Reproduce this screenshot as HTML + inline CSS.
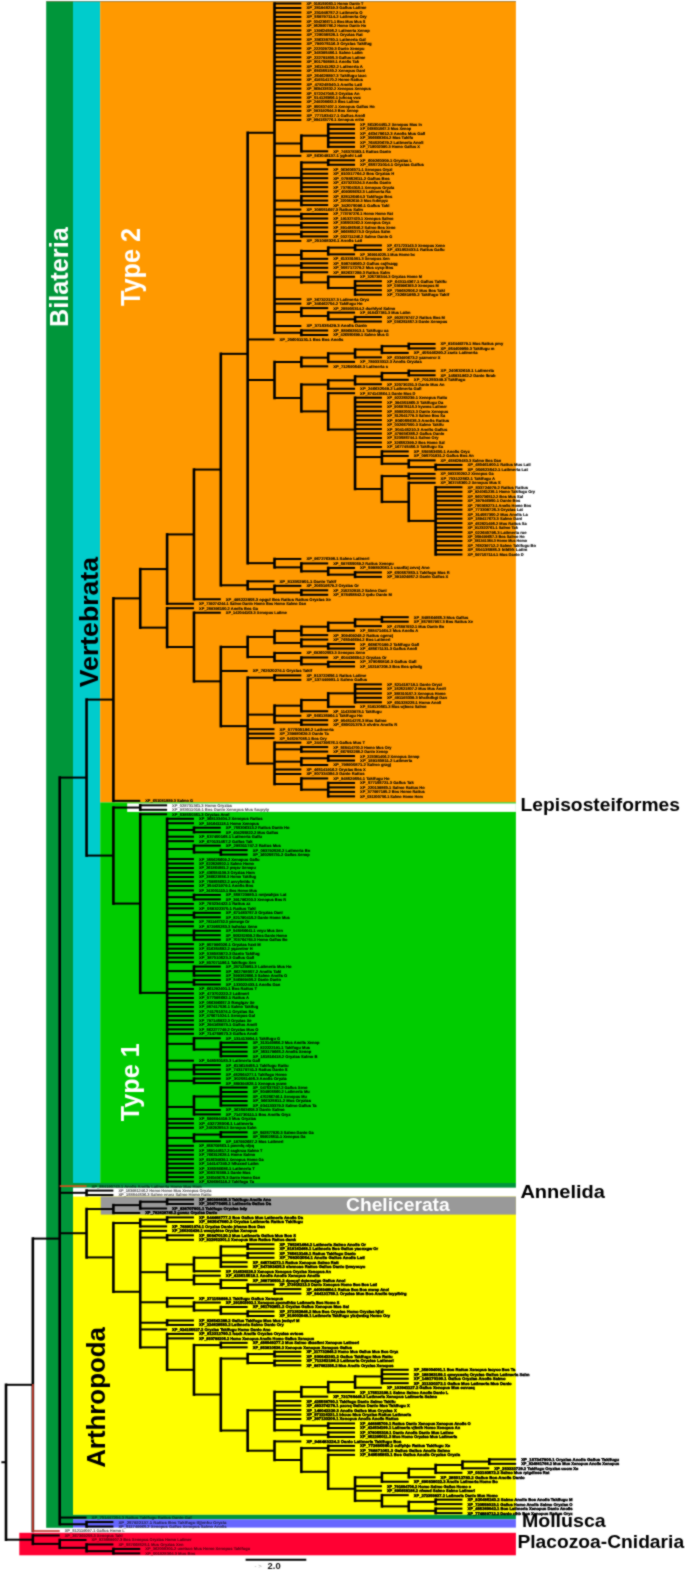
<!DOCTYPE html>
<html><head><meta charset="utf-8"><style>
html,body{margin:0;padding:0;background:#fff;}
svg{display:block;}
</style></head><body>
<svg width="685" height="1570" viewBox="0 0 685 1570">
<defs><filter id="bl" filterUnits="userSpaceOnUse" x="-5" y="-5" width="695" height="1580" color-interpolation-filters="sRGB"><feConvolveMatrix order="3" kernelMatrix="1 2 1 2 10 2 1 2 1" edgeMode="duplicate" preserveAlpha="true"/></filter></defs>
<g filter="url(#bl)">
<rect x="-5" y="-5" width="695" height="1580" fill="#fff"/>
<rect x="46.2" y="1.2" width="26.8" height="1526.6" fill="#00963A"/>
<rect x="73.0" y="1.2" width="27.2" height="1181.8" fill="#00CCCC"/>
<rect x="100.2" y="1.2" width="415.7" height="801.2" fill="#FF9900"/>
<rect x="100.2" y="802.4" width="415.7" height="380.6" fill="#00CC00"/>
<rect x="127.2" y="803.4" width="388.7" height="8.5" fill="#FFFFFF"/>
<rect x="73.0" y="1183.0" width="442.9" height="4.8" fill="#00963A"/>
<rect x="73.0" y="1187.8" width="442.9" height="8.8" fill="#FFFFFF"/>
<rect x="73.0" y="1196.6" width="442.9" height="318.2" fill="#FFFF00"/>
<rect x="100.7" y="1196.6" width="415.2" height="18.0" fill="#999999"/>
<rect x="73.0" y="1514.8" width="442.9" height="4.5" fill="#00963A"/>
<rect x="73.0" y="1519.3" width="442.9" height="8.3" fill="#6666FF"/>
<rect x="19.3" y="1532.8" width="496.6" height="22.5" fill="#FF0033"/>
<rect x="46.2" y="1.0" width="469.7" height="0.6" fill="#7a6a40"/>
<g>
<line x1="328.20" y1="124.45" x2="328.20" y2="146.84" stroke="black" stroke-width="2.6" stroke-linecap="square"/>
<line x1="301.35" y1="135.65" x2="301.35" y2="151.32" stroke="black" stroke-width="2.6" stroke-linecap="square"/>
<line x1="328.20" y1="160.28" x2="328.20" y2="164.76" stroke="black" stroke-width="2.6" stroke-linecap="square"/>
<line x1="301.35" y1="162.52" x2="301.35" y2="191.64" stroke="black" stroke-width="2.6" stroke-linecap="square"/>
<line x1="301.35" y1="196.12" x2="301.35" y2="205.08" stroke="black" stroke-width="2.6" stroke-linecap="square"/>
<line x1="301.35" y1="214.04" x2="301.35" y2="218.52" stroke="black" stroke-width="2.6" stroke-linecap="square"/>
<line x1="301.35" y1="223.00" x2="301.35" y2="227.47" stroke="black" stroke-width="2.6" stroke-linecap="square"/>
<line x1="301.35" y1="231.95" x2="301.35" y2="236.43" stroke="black" stroke-width="2.6" stroke-linecap="square"/>
<line x1="355.05" y1="245.39" x2="355.05" y2="249.87" stroke="black" stroke-width="2.6" stroke-linecap="square"/>
<line x1="328.20" y1="247.63" x2="328.20" y2="254.35" stroke="black" stroke-width="2.6" stroke-linecap="square"/>
<line x1="301.35" y1="250.99" x2="301.35" y2="258.83" stroke="black" stroke-width="2.6" stroke-linecap="square"/>
<line x1="301.35" y1="263.31" x2="301.35" y2="267.79" stroke="black" stroke-width="2.6" stroke-linecap="square"/>
<line x1="355.05" y1="281.23" x2="355.05" y2="294.67" stroke="black" stroke-width="2.6" stroke-linecap="square"/>
<line x1="328.20" y1="276.75" x2="328.20" y2="287.95" stroke="black" stroke-width="2.6" stroke-linecap="square"/>
<line x1="301.35" y1="272.27" x2="301.35" y2="282.35" stroke="black" stroke-width="2.6" stroke-linecap="square"/>
<line x1="355.05" y1="317.06" x2="355.05" y2="321.54" stroke="black" stroke-width="2.6" stroke-linecap="square"/>
<line x1="328.20" y1="312.59" x2="328.20" y2="319.30" stroke="black" stroke-width="2.6" stroke-linecap="square"/>
<line x1="301.35" y1="308.11" x2="301.35" y2="315.95" stroke="black" stroke-width="2.6" stroke-linecap="square"/>
<line x1="301.35" y1="330.50" x2="301.35" y2="334.98" stroke="black" stroke-width="2.6" stroke-linecap="square"/>
<line x1="274.50" y1="3.50" x2="274.50" y2="332.74" stroke="black" stroke-width="2.6" stroke-linecap="square"/>
<line x1="408.75" y1="343.94" x2="408.75" y2="348.42" stroke="black" stroke-width="2.6" stroke-linecap="square"/>
<line x1="381.90" y1="346.18" x2="381.90" y2="352.90" stroke="black" stroke-width="2.6" stroke-linecap="square"/>
<line x1="355.05" y1="349.54" x2="355.05" y2="357.38" stroke="black" stroke-width="2.6" stroke-linecap="square"/>
<line x1="328.20" y1="353.46" x2="328.20" y2="361.86" stroke="black" stroke-width="2.6" stroke-linecap="square"/>
<line x1="301.35" y1="357.66" x2="301.35" y2="366.34" stroke="black" stroke-width="2.6" stroke-linecap="square"/>
<line x1="408.75" y1="370.82" x2="408.75" y2="375.30" stroke="black" stroke-width="2.6" stroke-linecap="square"/>
<line x1="381.90" y1="373.06" x2="381.90" y2="379.78" stroke="black" stroke-width="2.6" stroke-linecap="square"/>
<line x1="355.05" y1="376.42" x2="355.05" y2="384.26" stroke="black" stroke-width="2.6" stroke-linecap="square"/>
<line x1="328.20" y1="380.34" x2="328.20" y2="388.74" stroke="black" stroke-width="2.6" stroke-linecap="square"/>
<line x1="435.60" y1="464.89" x2="435.60" y2="469.37" stroke="black" stroke-width="2.6" stroke-linecap="square"/>
<line x1="408.75" y1="460.41" x2="408.75" y2="467.13" stroke="black" stroke-width="2.6" stroke-linecap="square"/>
<line x1="381.90" y1="451.45" x2="381.90" y2="463.77" stroke="black" stroke-width="2.6" stroke-linecap="square"/>
<line x1="408.75" y1="473.85" x2="408.75" y2="478.33" stroke="black" stroke-width="2.6" stroke-linecap="square"/>
<line x1="435.60" y1="487.29" x2="435.60" y2="554.48" stroke="black" stroke-width="2.6" stroke-linecap="square"/>
<line x1="408.75" y1="482.81" x2="408.75" y2="520.88" stroke="black" stroke-width="2.6" stroke-linecap="square"/>
<line x1="381.90" y1="476.09" x2="381.90" y2="501.84" stroke="black" stroke-width="2.6" stroke-linecap="square"/>
<line x1="355.05" y1="397.70" x2="355.05" y2="488.97" stroke="black" stroke-width="2.6" stroke-linecap="square"/>
<line x1="328.20" y1="393.22" x2="328.20" y2="429.57" stroke="black" stroke-width="2.6" stroke-linecap="square"/>
<line x1="301.35" y1="384.54" x2="301.35" y2="411.39" stroke="black" stroke-width="2.6" stroke-linecap="square"/>
<line x1="274.50" y1="362.00" x2="274.50" y2="397.97" stroke="black" stroke-width="2.6" stroke-linecap="square"/>
<line x1="355.05" y1="572.40" x2="355.05" y2="576.88" stroke="black" stroke-width="2.6" stroke-linecap="square"/>
<line x1="328.20" y1="567.92" x2="328.20" y2="574.64" stroke="black" stroke-width="2.6" stroke-linecap="square"/>
<line x1="301.35" y1="563.44" x2="301.35" y2="571.28" stroke="black" stroke-width="2.6" stroke-linecap="square"/>
<line x1="274.50" y1="558.96" x2="274.50" y2="567.36" stroke="black" stroke-width="2.6" stroke-linecap="square"/>
<line x1="247.65" y1="132.77" x2="247.65" y2="563.16" stroke="black" stroke-width="2.6" stroke-linecap="square"/>
<line x1="301.35" y1="590.31" x2="301.35" y2="594.79" stroke="black" stroke-width="2.6" stroke-linecap="square"/>
<line x1="274.50" y1="585.83" x2="274.50" y2="592.55" stroke="black" stroke-width="2.6" stroke-linecap="square"/>
<line x1="247.65" y1="581.36" x2="247.65" y2="589.19" stroke="black" stroke-width="2.6" stroke-linecap="square"/>
<line x1="220.80" y1="353.84" x2="220.80" y2="585.28" stroke="black" stroke-width="2.6" stroke-linecap="square"/>
<line x1="193.95" y1="469.56" x2="193.95" y2="599.27" stroke="black" stroke-width="2.6" stroke-linecap="square"/>
<line x1="167.10" y1="534.42" x2="167.10" y2="603.75" stroke="black" stroke-width="2.6" stroke-linecap="square"/>
<line x1="381.90" y1="617.19" x2="381.90" y2="621.67" stroke="black" stroke-width="2.6" stroke-linecap="square"/>
<line x1="355.05" y1="619.43" x2="355.05" y2="626.15" stroke="black" stroke-width="2.6" stroke-linecap="square"/>
<line x1="328.20" y1="622.79" x2="328.20" y2="630.63" stroke="black" stroke-width="2.6" stroke-linecap="square"/>
<line x1="301.35" y1="626.71" x2="301.35" y2="635.11" stroke="black" stroke-width="2.6" stroke-linecap="square"/>
<line x1="328.20" y1="644.07" x2="328.20" y2="648.55" stroke="black" stroke-width="2.6" stroke-linecap="square"/>
<line x1="301.35" y1="639.59" x2="301.35" y2="646.31" stroke="black" stroke-width="2.6" stroke-linecap="square"/>
<line x1="274.50" y1="630.91" x2="274.50" y2="642.95" stroke="black" stroke-width="2.6" stroke-linecap="square"/>
<line x1="328.20" y1="661.99" x2="328.20" y2="666.47" stroke="black" stroke-width="2.6" stroke-linecap="square"/>
<line x1="301.35" y1="657.51" x2="301.35" y2="664.23" stroke="black" stroke-width="2.6" stroke-linecap="square"/>
<line x1="274.50" y1="653.03" x2="274.50" y2="660.87" stroke="black" stroke-width="2.6" stroke-linecap="square"/>
<line x1="247.65" y1="636.93" x2="247.65" y2="656.95" stroke="black" stroke-width="2.6" stroke-linecap="square"/>
<line x1="274.50" y1="675.42" x2="274.50" y2="679.90" stroke="black" stroke-width="2.6" stroke-linecap="square"/>
<line x1="355.05" y1="684.38" x2="355.05" y2="702.30" stroke="black" stroke-width="2.6" stroke-linecap="square"/>
<line x1="328.20" y1="693.34" x2="328.20" y2="706.78" stroke="black" stroke-width="2.6" stroke-linecap="square"/>
<line x1="301.35" y1="700.06" x2="301.35" y2="711.26" stroke="black" stroke-width="2.6" stroke-linecap="square"/>
<line x1="301.35" y1="720.22" x2="301.35" y2="724.70" stroke="black" stroke-width="2.6" stroke-linecap="square"/>
<line x1="274.50" y1="705.66" x2="274.50" y2="722.46" stroke="black" stroke-width="2.6" stroke-linecap="square"/>
<line x1="301.35" y1="747.10" x2="301.35" y2="751.58" stroke="black" stroke-width="2.6" stroke-linecap="square"/>
<line x1="328.20" y1="756.06" x2="328.20" y2="760.54" stroke="black" stroke-width="2.6" stroke-linecap="square"/>
<line x1="301.35" y1="758.30" x2="301.35" y2="765.01" stroke="black" stroke-width="2.6" stroke-linecap="square"/>
<line x1="328.20" y1="782.93" x2="328.20" y2="796.37" stroke="black" stroke-width="2.6" stroke-linecap="square"/>
<line x1="301.35" y1="778.45" x2="301.35" y2="789.65" stroke="black" stroke-width="2.6" stroke-linecap="square"/>
<line x1="274.50" y1="742.62" x2="274.50" y2="784.05" stroke="black" stroke-width="2.6" stroke-linecap="square"/>
<line x1="247.65" y1="677.66" x2="247.65" y2="763.52" stroke="black" stroke-width="2.6" stroke-linecap="square"/>
<line x1="220.80" y1="646.94" x2="220.80" y2="726.13" stroke="black" stroke-width="2.6" stroke-linecap="square"/>
<line x1="193.95" y1="612.71" x2="193.95" y2="681.34" stroke="black" stroke-width="2.6" stroke-linecap="square"/>
<line x1="167.10" y1="608.23" x2="167.10" y2="647.03" stroke="black" stroke-width="2.6" stroke-linecap="square"/>
<line x1="140.25" y1="569.08" x2="140.25" y2="627.63" stroke="black" stroke-width="2.6" stroke-linecap="square"/>
<line x1="113.40" y1="598.36" x2="113.40" y2="800.85" stroke="black" stroke-width="2.6" stroke-linecap="square"/>
<line x1="140.25" y1="805.33" x2="140.25" y2="809.81" stroke="black" stroke-width="2.6" stroke-linecap="square"/>
<line x1="193.95" y1="827.73" x2="193.95" y2="832.21" stroke="black" stroke-width="2.6" stroke-linecap="square"/>
<line x1="220.80" y1="850.13" x2="220.80" y2="854.61" stroke="black" stroke-width="2.6" stroke-linecap="square"/>
<line x1="193.95" y1="845.65" x2="193.95" y2="852.37" stroke="black" stroke-width="2.6" stroke-linecap="square"/>
<line x1="193.95" y1="894.92" x2="193.95" y2="899.40" stroke="black" stroke-width="2.6" stroke-linecap="square"/>
<line x1="193.95" y1="912.84" x2="193.95" y2="917.32" stroke="black" stroke-width="2.6" stroke-linecap="square"/>
<line x1="193.95" y1="930.76" x2="193.95" y2="939.72" stroke="black" stroke-width="2.6" stroke-linecap="square"/>
<line x1="193.95" y1="966.59" x2="193.95" y2="975.55" stroke="black" stroke-width="2.6" stroke-linecap="square"/>
<line x1="193.95" y1="980.03" x2="193.95" y2="984.51" stroke="black" stroke-width="2.6" stroke-linecap="square"/>
<line x1="220.80" y1="1042.74" x2="220.80" y2="1056.18" stroke="black" stroke-width="2.6" stroke-linecap="square"/>
<line x1="193.95" y1="1038.26" x2="193.95" y2="1049.46" stroke="black" stroke-width="2.6" stroke-linecap="square"/>
<line x1="193.95" y1="1065.14" x2="193.95" y2="1074.10" stroke="black" stroke-width="2.6" stroke-linecap="square"/>
<line x1="193.95" y1="1078.58" x2="193.95" y2="1083.06" stroke="black" stroke-width="2.6" stroke-linecap="square"/>
<line x1="220.80" y1="1087.54" x2="220.80" y2="1105.46" stroke="black" stroke-width="2.6" stroke-linecap="square"/>
<line x1="193.95" y1="1096.50" x2="193.95" y2="1114.42" stroke="black" stroke-width="2.6" stroke-linecap="square"/>
<line x1="220.80" y1="1132.33" x2="220.80" y2="1136.81" stroke="black" stroke-width="2.6" stroke-linecap="square"/>
<line x1="193.95" y1="1134.57" x2="193.95" y2="1141.29" stroke="black" stroke-width="2.6" stroke-linecap="square"/>
<line x1="167.10" y1="818.77" x2="167.10" y2="1181.61" stroke="black" stroke-width="2.6" stroke-linecap="square"/>
<line x1="140.25" y1="814.29" x2="140.25" y2="992.85" stroke="black" stroke-width="2.6" stroke-linecap="square"/>
<line x1="113.40" y1="807.57" x2="113.40" y2="903.57" stroke="black" stroke-width="2.6" stroke-linecap="square"/>
<line x1="86.55" y1="699.60" x2="86.55" y2="855.57" stroke="black" stroke-width="2.6" stroke-linecap="square"/>
<line x1="86.55" y1="1190.57" x2="86.55" y2="1195.05" stroke="black" stroke-width="2.6" stroke-linecap="square"/>
<line x1="167.10" y1="1199.53" x2="167.10" y2="1204.01" stroke="black" stroke-width="2.6" stroke-linecap="square"/>
<line x1="140.25" y1="1201.77" x2="140.25" y2="1208.49" stroke="black" stroke-width="2.6" stroke-linecap="square"/>
<line x1="113.40" y1="1205.13" x2="113.40" y2="1212.96" stroke="black" stroke-width="2.6" stroke-linecap="square"/>
<line x1="167.10" y1="1217.44" x2="167.10" y2="1221.92" stroke="black" stroke-width="2.6" stroke-linecap="square"/>
<line x1="140.25" y1="1219.68" x2="140.25" y2="1226.40" stroke="black" stroke-width="2.6" stroke-linecap="square"/>
<line x1="167.10" y1="1235.36" x2="167.10" y2="1239.84" stroke="black" stroke-width="2.6" stroke-linecap="square"/>
<line x1="247.65" y1="1244.32" x2="247.65" y2="1248.80" stroke="black" stroke-width="2.6" stroke-linecap="square"/>
<line x1="247.65" y1="1253.28" x2="247.65" y2="1257.76" stroke="black" stroke-width="2.6" stroke-linecap="square"/>
<line x1="220.80" y1="1246.56" x2="220.80" y2="1266.72" stroke="black" stroke-width="2.6" stroke-linecap="square"/>
<line x1="193.95" y1="1257.76" x2="193.95" y2="1271.20" stroke="black" stroke-width="2.6" stroke-linecap="square"/>
<line x1="274.50" y1="1289.12" x2="274.50" y2="1293.60" stroke="black" stroke-width="2.6" stroke-linecap="square"/>
<line x1="247.65" y1="1284.64" x2="247.65" y2="1291.36" stroke="black" stroke-width="2.6" stroke-linecap="square"/>
<line x1="220.80" y1="1280.16" x2="220.80" y2="1288.00" stroke="black" stroke-width="2.6" stroke-linecap="square"/>
<line x1="193.95" y1="1275.68" x2="193.95" y2="1284.08" stroke="black" stroke-width="2.6" stroke-linecap="square"/>
<line x1="167.10" y1="1264.48" x2="167.10" y2="1279.88" stroke="black" stroke-width="2.6" stroke-linecap="square"/>
<line x1="247.65" y1="1311.51" x2="247.65" y2="1315.99" stroke="black" stroke-width="2.6" stroke-linecap="square"/>
<line x1="220.80" y1="1307.03" x2="220.80" y2="1313.75" stroke="black" stroke-width="2.6" stroke-linecap="square"/>
<line x1="193.95" y1="1302.55" x2="193.95" y2="1310.39" stroke="black" stroke-width="2.6" stroke-linecap="square"/>
<line x1="167.10" y1="1298.08" x2="167.10" y2="1306.47" stroke="black" stroke-width="2.6" stroke-linecap="square"/>
<line x1="167.10" y1="1320.47" x2="167.10" y2="1324.95" stroke="black" stroke-width="2.6" stroke-linecap="square"/>
<line x1="220.80" y1="1342.87" x2="220.80" y2="1347.35" stroke="black" stroke-width="2.6" stroke-linecap="square"/>
<line x1="274.50" y1="1351.83" x2="274.50" y2="1356.31" stroke="black" stroke-width="2.6" stroke-linecap="square"/>
<line x1="274.50" y1="1360.79" x2="274.50" y2="1365.27" stroke="black" stroke-width="2.6" stroke-linecap="square"/>
<line x1="247.65" y1="1354.07" x2="247.65" y2="1363.03" stroke="black" stroke-width="2.6" stroke-linecap="square"/>
<line x1="381.90" y1="1369.75" x2="381.90" y2="1383.19" stroke="black" stroke-width="2.6" stroke-linecap="square"/>
<line x1="355.05" y1="1376.47" x2="355.05" y2="1387.67" stroke="black" stroke-width="2.6" stroke-linecap="square"/>
<line x1="328.20" y1="1382.07" x2="328.20" y2="1392.14" stroke="black" stroke-width="2.6" stroke-linecap="square"/>
<line x1="301.35" y1="1387.11" x2="301.35" y2="1396.62" stroke="black" stroke-width="2.6" stroke-linecap="square"/>
<line x1="328.20" y1="1423.50" x2="328.20" y2="1427.98" stroke="black" stroke-width="2.6" stroke-linecap="square"/>
<line x1="328.20" y1="1432.46" x2="328.20" y2="1436.94" stroke="black" stroke-width="2.6" stroke-linecap="square"/>
<line x1="301.35" y1="1425.74" x2="301.35" y2="1434.70" stroke="black" stroke-width="2.6" stroke-linecap="square"/>
<line x1="274.50" y1="1391.87" x2="274.50" y2="1430.22" stroke="black" stroke-width="2.6" stroke-linecap="square"/>
<line x1="328.20" y1="1445.90" x2="328.20" y2="1450.38" stroke="black" stroke-width="2.6" stroke-linecap="square"/>
<line x1="489.30" y1="1459.34" x2="489.30" y2="1463.82" stroke="black" stroke-width="2.6" stroke-linecap="square"/>
<line x1="462.45" y1="1461.58" x2="462.45" y2="1468.30" stroke="black" stroke-width="2.6" stroke-linecap="square"/>
<line x1="435.60" y1="1464.94" x2="435.60" y2="1472.78" stroke="black" stroke-width="2.6" stroke-linecap="square"/>
<line x1="408.75" y1="1468.86" x2="408.75" y2="1477.26" stroke="black" stroke-width="2.6" stroke-linecap="square"/>
<line x1="381.90" y1="1473.06" x2="381.90" y2="1481.73" stroke="black" stroke-width="2.6" stroke-linecap="square"/>
<line x1="435.60" y1="1499.65" x2="435.60" y2="1504.13" stroke="black" stroke-width="2.6" stroke-linecap="square"/>
<line x1="435.60" y1="1508.61" x2="435.60" y2="1513.09" stroke="black" stroke-width="2.6" stroke-linecap="square"/>
<line x1="408.75" y1="1501.89" x2="408.75" y2="1510.85" stroke="black" stroke-width="2.6" stroke-linecap="square"/>
<line x1="381.90" y1="1495.17" x2="381.90" y2="1506.37" stroke="black" stroke-width="2.6" stroke-linecap="square"/>
<line x1="355.05" y1="1477.40" x2="355.05" y2="1500.77" stroke="black" stroke-width="2.6" stroke-linecap="square"/>
<line x1="328.20" y1="1454.86" x2="328.20" y2="1488.77" stroke="black" stroke-width="2.6" stroke-linecap="square"/>
<line x1="301.35" y1="1448.14" x2="301.35" y2="1471.81" stroke="black" stroke-width="2.6" stroke-linecap="square"/>
<line x1="274.50" y1="1441.42" x2="274.50" y2="1459.98" stroke="black" stroke-width="2.6" stroke-linecap="square"/>
<line x1="247.65" y1="1410.34" x2="247.65" y2="1450.70" stroke="black" stroke-width="2.6" stroke-linecap="square"/>
<line x1="220.80" y1="1358.55" x2="220.80" y2="1430.52" stroke="black" stroke-width="2.6" stroke-linecap="square"/>
<line x1="193.95" y1="1345.11" x2="193.95" y2="1394.53" stroke="black" stroke-width="2.6" stroke-linecap="square"/>
<line x1="167.10" y1="1333.91" x2="167.10" y2="1369.82" stroke="black" stroke-width="2.6" stroke-linecap="square"/>
<line x1="140.25" y1="1230.88" x2="140.25" y2="1347.37" stroke="black" stroke-width="2.6" stroke-linecap="square"/>
<line x1="113.40" y1="1223.04" x2="113.40" y2="1291.78" stroke="black" stroke-width="2.6" stroke-linecap="square"/>
<line x1="86.55" y1="1209.05" x2="86.55" y2="1257.41" stroke="black" stroke-width="2.6" stroke-linecap="square"/>
<line x1="86.55" y1="1522.05" x2="86.55" y2="1526.53" stroke="black" stroke-width="2.6" stroke-linecap="square"/>
<line x1="59.70" y1="777.59" x2="59.70" y2="1524.29" stroke="black" stroke-width="2.6" stroke-linecap="square"/>
<line x1="32.85" y1="1238.60" x2="32.85" y2="1531.01" stroke="black" stroke-width="2.6" stroke-linecap="square"/>
<line x1="113.40" y1="1548.93" x2="113.40" y2="1553.41" stroke="black" stroke-width="2.6" stroke-linecap="square"/>
<line x1="86.55" y1="1544.45" x2="86.55" y2="1551.17" stroke="black" stroke-width="2.6" stroke-linecap="square"/>
<line x1="59.70" y1="1539.97" x2="59.70" y2="1547.81" stroke="black" stroke-width="2.6" stroke-linecap="square"/>
<line x1="32.85" y1="1535.49" x2="32.85" y2="1543.89" stroke="black" stroke-width="2.6" stroke-linecap="square"/>
<line x1="6.00" y1="1384.80" x2="6.00" y2="1539.69" stroke="black" stroke-width="2.6" stroke-linecap="square"/>
<line x1="274.50" y1="3.50" x2="301.35" y2="3.50" stroke="black" stroke-width="2.0"/>
<line x1="274.50" y1="7.98" x2="301.35" y2="7.98" stroke="black" stroke-width="2.0"/>
<line x1="274.50" y1="12.46" x2="301.35" y2="12.46" stroke="black" stroke-width="2.0"/>
<line x1="274.50" y1="16.94" x2="301.35" y2="16.94" stroke="black" stroke-width="2.0"/>
<line x1="274.50" y1="21.42" x2="301.35" y2="21.42" stroke="black" stroke-width="2.0"/>
<line x1="274.50" y1="25.90" x2="301.35" y2="25.90" stroke="black" stroke-width="2.0"/>
<line x1="274.50" y1="30.38" x2="301.35" y2="30.38" stroke="black" stroke-width="2.0"/>
<line x1="274.50" y1="34.86" x2="301.35" y2="34.86" stroke="black" stroke-width="2.0"/>
<line x1="274.50" y1="39.34" x2="301.35" y2="39.34" stroke="black" stroke-width="2.0"/>
<line x1="274.50" y1="43.82" x2="301.35" y2="43.82" stroke="black" stroke-width="2.0"/>
<line x1="274.50" y1="48.30" x2="301.35" y2="48.30" stroke="black" stroke-width="2.0"/>
<line x1="274.50" y1="52.77" x2="301.35" y2="52.77" stroke="black" stroke-width="2.0"/>
<line x1="274.50" y1="57.25" x2="301.35" y2="57.25" stroke="black" stroke-width="2.0"/>
<line x1="274.50" y1="61.73" x2="301.35" y2="61.73" stroke="black" stroke-width="2.0"/>
<line x1="274.50" y1="66.21" x2="301.35" y2="66.21" stroke="black" stroke-width="2.0"/>
<line x1="274.50" y1="70.69" x2="301.35" y2="70.69" stroke="black" stroke-width="2.0"/>
<line x1="274.50" y1="75.17" x2="301.35" y2="75.17" stroke="black" stroke-width="2.0"/>
<line x1="274.50" y1="79.65" x2="301.35" y2="79.65" stroke="black" stroke-width="2.0"/>
<line x1="274.50" y1="84.13" x2="301.35" y2="84.13" stroke="black" stroke-width="2.0"/>
<line x1="274.50" y1="88.61" x2="301.35" y2="88.61" stroke="black" stroke-width="2.0"/>
<line x1="274.50" y1="93.09" x2="301.35" y2="93.09" stroke="black" stroke-width="2.0"/>
<line x1="274.50" y1="97.57" x2="301.35" y2="97.57" stroke="black" stroke-width="2.0"/>
<line x1="274.50" y1="102.05" x2="301.35" y2="102.05" stroke="black" stroke-width="2.0"/>
<line x1="274.50" y1="106.53" x2="301.35" y2="106.53" stroke="black" stroke-width="2.0"/>
<line x1="274.50" y1="111.01" x2="301.35" y2="111.01" stroke="black" stroke-width="2.0"/>
<line x1="274.50" y1="115.49" x2="301.35" y2="115.49" stroke="black" stroke-width="2.0"/>
<line x1="274.50" y1="119.97" x2="301.35" y2="119.97" stroke="black" stroke-width="2.0"/>
<line x1="328.20" y1="124.45" x2="355.05" y2="124.45" stroke="black" stroke-width="2.0"/>
<line x1="328.20" y1="128.93" x2="355.05" y2="128.93" stroke="black" stroke-width="2.0"/>
<line x1="328.20" y1="133.41" x2="355.05" y2="133.41" stroke="black" stroke-width="2.0"/>
<line x1="328.20" y1="137.88" x2="355.05" y2="137.88" stroke="black" stroke-width="2.0"/>
<line x1="328.20" y1="142.36" x2="355.05" y2="142.36" stroke="black" stroke-width="2.0"/>
<line x1="328.20" y1="146.84" x2="355.05" y2="146.84" stroke="black" stroke-width="2.0"/>
<line x1="301.35" y1="135.65" x2="328.20" y2="135.65" stroke="black" stroke-width="2.0"/>
<line x1="301.35" y1="151.32" x2="328.20" y2="151.32" stroke="black" stroke-width="2.0"/>
<line x1="274.50" y1="143.48" x2="301.35" y2="143.48" stroke="black" stroke-width="2.0"/>
<line x1="274.50" y1="155.80" x2="301.35" y2="155.80" stroke="black" stroke-width="2.0"/>
<line x1="328.20" y1="160.28" x2="355.05" y2="160.28" stroke="black" stroke-width="2.0"/>
<line x1="328.20" y1="164.76" x2="355.05" y2="164.76" stroke="black" stroke-width="2.0"/>
<line x1="301.35" y1="162.52" x2="328.20" y2="162.52" stroke="black" stroke-width="2.0"/>
<line x1="301.35" y1="169.24" x2="328.20" y2="169.24" stroke="black" stroke-width="2.0"/>
<line x1="301.35" y1="173.72" x2="328.20" y2="173.72" stroke="black" stroke-width="2.0"/>
<line x1="301.35" y1="178.20" x2="328.20" y2="178.20" stroke="black" stroke-width="2.0"/>
<line x1="301.35" y1="182.68" x2="328.20" y2="182.68" stroke="black" stroke-width="2.0"/>
<line x1="301.35" y1="187.16" x2="328.20" y2="187.16" stroke="black" stroke-width="2.0"/>
<line x1="301.35" y1="191.64" x2="328.20" y2="191.64" stroke="black" stroke-width="2.0"/>
<line x1="274.50" y1="177.88" x2="301.35" y2="177.88" stroke="black" stroke-width="2.0"/>
<line x1="301.35" y1="196.12" x2="328.20" y2="196.12" stroke="black" stroke-width="2.0"/>
<line x1="301.35" y1="200.60" x2="328.20" y2="200.60" stroke="black" stroke-width="2.0"/>
<line x1="301.35" y1="205.08" x2="328.20" y2="205.08" stroke="black" stroke-width="2.0"/>
<line x1="274.50" y1="200.60" x2="301.35" y2="200.60" stroke="black" stroke-width="2.0"/>
<line x1="274.50" y1="209.56" x2="301.35" y2="209.56" stroke="black" stroke-width="2.0"/>
<line x1="301.35" y1="214.04" x2="328.20" y2="214.04" stroke="black" stroke-width="2.0"/>
<line x1="301.35" y1="218.52" x2="328.20" y2="218.52" stroke="black" stroke-width="2.0"/>
<line x1="274.50" y1="216.28" x2="301.35" y2="216.28" stroke="black" stroke-width="2.0"/>
<line x1="301.35" y1="223.00" x2="328.20" y2="223.00" stroke="black" stroke-width="2.0"/>
<line x1="301.35" y1="227.47" x2="328.20" y2="227.47" stroke="black" stroke-width="2.0"/>
<line x1="274.50" y1="225.24" x2="301.35" y2="225.24" stroke="black" stroke-width="2.0"/>
<line x1="301.35" y1="231.95" x2="328.20" y2="231.95" stroke="black" stroke-width="2.0"/>
<line x1="301.35" y1="236.43" x2="328.20" y2="236.43" stroke="black" stroke-width="2.0"/>
<line x1="274.50" y1="234.19" x2="301.35" y2="234.19" stroke="black" stroke-width="2.0"/>
<line x1="274.50" y1="240.91" x2="301.35" y2="240.91" stroke="black" stroke-width="2.0"/>
<line x1="355.05" y1="245.39" x2="381.90" y2="245.39" stroke="black" stroke-width="2.0"/>
<line x1="355.05" y1="249.87" x2="381.90" y2="249.87" stroke="black" stroke-width="2.0"/>
<line x1="328.20" y1="247.63" x2="355.05" y2="247.63" stroke="black" stroke-width="2.0"/>
<line x1="328.20" y1="254.35" x2="355.05" y2="254.35" stroke="black" stroke-width="2.0"/>
<line x1="301.35" y1="250.99" x2="328.20" y2="250.99" stroke="black" stroke-width="2.0"/>
<line x1="301.35" y1="258.83" x2="328.20" y2="258.83" stroke="black" stroke-width="2.0"/>
<line x1="274.50" y1="254.91" x2="301.35" y2="254.91" stroke="black" stroke-width="2.0"/>
<line x1="301.35" y1="263.31" x2="328.20" y2="263.31" stroke="black" stroke-width="2.0"/>
<line x1="301.35" y1="267.79" x2="328.20" y2="267.79" stroke="black" stroke-width="2.0"/>
<line x1="274.50" y1="265.55" x2="301.35" y2="265.55" stroke="black" stroke-width="2.0"/>
<line x1="301.35" y1="272.27" x2="328.20" y2="272.27" stroke="black" stroke-width="2.0"/>
<line x1="328.20" y1="276.75" x2="355.05" y2="276.75" stroke="black" stroke-width="2.0"/>
<line x1="355.05" y1="281.23" x2="381.90" y2="281.23" stroke="black" stroke-width="2.0"/>
<line x1="355.05" y1="285.71" x2="381.90" y2="285.71" stroke="black" stroke-width="2.0"/>
<line x1="355.05" y1="290.19" x2="381.90" y2="290.19" stroke="black" stroke-width="2.0"/>
<line x1="355.05" y1="294.67" x2="381.90" y2="294.67" stroke="black" stroke-width="2.0"/>
<line x1="328.20" y1="287.95" x2="355.05" y2="287.95" stroke="black" stroke-width="2.0"/>
<line x1="301.35" y1="282.35" x2="328.20" y2="282.35" stroke="black" stroke-width="2.0"/>
<line x1="274.50" y1="277.31" x2="301.35" y2="277.31" stroke="black" stroke-width="2.0"/>
<line x1="274.50" y1="299.15" x2="301.35" y2="299.15" stroke="black" stroke-width="2.0"/>
<line x1="274.50" y1="303.63" x2="301.35" y2="303.63" stroke="black" stroke-width="2.0"/>
<line x1="301.35" y1="308.11" x2="328.20" y2="308.11" stroke="black" stroke-width="2.0"/>
<line x1="328.20" y1="312.59" x2="355.05" y2="312.59" stroke="black" stroke-width="2.0"/>
<line x1="355.05" y1="317.06" x2="381.90" y2="317.06" stroke="black" stroke-width="2.0"/>
<line x1="355.05" y1="321.54" x2="381.90" y2="321.54" stroke="black" stroke-width="2.0"/>
<line x1="328.20" y1="319.30" x2="355.05" y2="319.30" stroke="black" stroke-width="2.0"/>
<line x1="301.35" y1="315.95" x2="328.20" y2="315.95" stroke="black" stroke-width="2.0"/>
<line x1="274.50" y1="312.03" x2="301.35" y2="312.03" stroke="black" stroke-width="2.0"/>
<line x1="274.50" y1="326.02" x2="301.35" y2="326.02" stroke="black" stroke-width="2.0"/>
<line x1="301.35" y1="330.50" x2="328.20" y2="330.50" stroke="black" stroke-width="2.0"/>
<line x1="301.35" y1="334.98" x2="328.20" y2="334.98" stroke="black" stroke-width="2.0"/>
<line x1="274.50" y1="332.74" x2="301.35" y2="332.74" stroke="black" stroke-width="2.0"/>
<line x1="247.65" y1="132.77" x2="274.50" y2="132.77" stroke="black" stroke-width="2.0"/>
<line x1="247.65" y1="339.46" x2="274.50" y2="339.46" stroke="black" stroke-width="2.0"/>
<line x1="408.75" y1="343.94" x2="435.60" y2="343.94" stroke="black" stroke-width="2.0"/>
<line x1="408.75" y1="348.42" x2="435.60" y2="348.42" stroke="black" stroke-width="2.0"/>
<line x1="381.90" y1="346.18" x2="408.75" y2="346.18" stroke="black" stroke-width="2.0"/>
<line x1="381.90" y1="352.90" x2="408.75" y2="352.90" stroke="black" stroke-width="2.0"/>
<line x1="355.05" y1="349.54" x2="381.90" y2="349.54" stroke="black" stroke-width="2.0"/>
<line x1="355.05" y1="357.38" x2="381.90" y2="357.38" stroke="black" stroke-width="2.0"/>
<line x1="328.20" y1="353.46" x2="355.05" y2="353.46" stroke="black" stroke-width="2.0"/>
<line x1="328.20" y1="361.86" x2="355.05" y2="361.86" stroke="black" stroke-width="2.0"/>
<line x1="301.35" y1="357.66" x2="328.20" y2="357.66" stroke="black" stroke-width="2.0"/>
<line x1="301.35" y1="366.34" x2="328.20" y2="366.34" stroke="black" stroke-width="2.0"/>
<line x1="274.50" y1="362.00" x2="301.35" y2="362.00" stroke="black" stroke-width="2.0"/>
<line x1="408.75" y1="370.82" x2="435.60" y2="370.82" stroke="black" stroke-width="2.0"/>
<line x1="408.75" y1="375.30" x2="435.60" y2="375.30" stroke="black" stroke-width="2.0"/>
<line x1="381.90" y1="373.06" x2="408.75" y2="373.06" stroke="black" stroke-width="2.0"/>
<line x1="381.90" y1="379.78" x2="408.75" y2="379.78" stroke="black" stroke-width="2.0"/>
<line x1="355.05" y1="376.42" x2="381.90" y2="376.42" stroke="black" stroke-width="2.0"/>
<line x1="355.05" y1="384.26" x2="381.90" y2="384.26" stroke="black" stroke-width="2.0"/>
<line x1="328.20" y1="380.34" x2="355.05" y2="380.34" stroke="black" stroke-width="2.0"/>
<line x1="328.20" y1="388.74" x2="355.05" y2="388.74" stroke="black" stroke-width="2.0"/>
<line x1="301.35" y1="384.54" x2="328.20" y2="384.54" stroke="black" stroke-width="2.0"/>
<line x1="328.20" y1="393.22" x2="355.05" y2="393.22" stroke="black" stroke-width="2.0"/>
<line x1="355.05" y1="397.70" x2="381.90" y2="397.70" stroke="black" stroke-width="2.0"/>
<line x1="355.05" y1="402.18" x2="381.90" y2="402.18" stroke="black" stroke-width="2.0"/>
<line x1="355.05" y1="406.65" x2="381.90" y2="406.65" stroke="black" stroke-width="2.0"/>
<line x1="355.05" y1="411.13" x2="381.90" y2="411.13" stroke="black" stroke-width="2.0"/>
<line x1="355.05" y1="415.61" x2="381.90" y2="415.61" stroke="black" stroke-width="2.0"/>
<line x1="355.05" y1="420.09" x2="381.90" y2="420.09" stroke="black" stroke-width="2.0"/>
<line x1="355.05" y1="424.57" x2="381.90" y2="424.57" stroke="black" stroke-width="2.0"/>
<line x1="355.05" y1="429.05" x2="381.90" y2="429.05" stroke="black" stroke-width="2.0"/>
<line x1="355.05" y1="433.53" x2="381.90" y2="433.53" stroke="black" stroke-width="2.0"/>
<line x1="355.05" y1="438.01" x2="381.90" y2="438.01" stroke="black" stroke-width="2.0"/>
<line x1="355.05" y1="442.49" x2="381.90" y2="442.49" stroke="black" stroke-width="2.0"/>
<line x1="355.05" y1="446.97" x2="381.90" y2="446.97" stroke="black" stroke-width="2.0"/>
<line x1="381.90" y1="451.45" x2="408.75" y2="451.45" stroke="black" stroke-width="2.0"/>
<line x1="381.90" y1="455.93" x2="408.75" y2="455.93" stroke="black" stroke-width="2.0"/>
<line x1="408.75" y1="460.41" x2="435.60" y2="460.41" stroke="black" stroke-width="2.0"/>
<line x1="435.60" y1="464.89" x2="462.45" y2="464.89" stroke="black" stroke-width="2.0"/>
<line x1="435.60" y1="469.37" x2="462.45" y2="469.37" stroke="black" stroke-width="2.0"/>
<line x1="408.75" y1="467.13" x2="435.60" y2="467.13" stroke="black" stroke-width="2.0"/>
<line x1="381.90" y1="463.77" x2="408.75" y2="463.77" stroke="black" stroke-width="2.0"/>
<line x1="355.05" y1="457.05" x2="381.90" y2="457.05" stroke="black" stroke-width="2.0"/>
<line x1="408.75" y1="473.85" x2="435.60" y2="473.85" stroke="black" stroke-width="2.0"/>
<line x1="408.75" y1="478.33" x2="435.60" y2="478.33" stroke="black" stroke-width="2.0"/>
<line x1="381.90" y1="476.09" x2="408.75" y2="476.09" stroke="black" stroke-width="2.0"/>
<line x1="408.75" y1="482.81" x2="435.60" y2="482.81" stroke="black" stroke-width="2.0"/>
<line x1="435.60" y1="487.29" x2="462.45" y2="487.29" stroke="black" stroke-width="2.0"/>
<line x1="435.60" y1="491.77" x2="462.45" y2="491.77" stroke="black" stroke-width="2.0"/>
<line x1="435.60" y1="496.25" x2="462.45" y2="496.25" stroke="black" stroke-width="2.0"/>
<line x1="435.60" y1="500.72" x2="462.45" y2="500.72" stroke="black" stroke-width="2.0"/>
<line x1="435.60" y1="505.20" x2="462.45" y2="505.20" stroke="black" stroke-width="2.0"/>
<line x1="435.60" y1="509.68" x2="462.45" y2="509.68" stroke="black" stroke-width="2.0"/>
<line x1="435.60" y1="514.16" x2="462.45" y2="514.16" stroke="black" stroke-width="2.0"/>
<line x1="435.60" y1="518.64" x2="462.45" y2="518.64" stroke="black" stroke-width="2.0"/>
<line x1="435.60" y1="523.12" x2="462.45" y2="523.12" stroke="black" stroke-width="2.0"/>
<line x1="435.60" y1="527.60" x2="462.45" y2="527.60" stroke="black" stroke-width="2.0"/>
<line x1="435.60" y1="532.08" x2="462.45" y2="532.08" stroke="black" stroke-width="2.0"/>
<line x1="435.60" y1="536.56" x2="462.45" y2="536.56" stroke="black" stroke-width="2.0"/>
<line x1="435.60" y1="541.04" x2="462.45" y2="541.04" stroke="black" stroke-width="2.0"/>
<line x1="435.60" y1="545.52" x2="462.45" y2="545.52" stroke="black" stroke-width="2.0"/>
<line x1="435.60" y1="550.00" x2="462.45" y2="550.00" stroke="black" stroke-width="2.0"/>
<line x1="435.60" y1="554.48" x2="462.45" y2="554.48" stroke="black" stroke-width="2.0"/>
<line x1="408.75" y1="520.88" x2="435.60" y2="520.88" stroke="black" stroke-width="2.0"/>
<line x1="381.90" y1="501.84" x2="408.75" y2="501.84" stroke="black" stroke-width="2.0"/>
<line x1="355.05" y1="488.97" x2="381.90" y2="488.97" stroke="black" stroke-width="2.0"/>
<line x1="328.20" y1="429.57" x2="355.05" y2="429.57" stroke="black" stroke-width="2.0"/>
<line x1="301.35" y1="411.39" x2="328.20" y2="411.39" stroke="black" stroke-width="2.0"/>
<line x1="274.50" y1="397.97" x2="301.35" y2="397.97" stroke="black" stroke-width="2.0"/>
<line x1="247.65" y1="379.98" x2="274.50" y2="379.98" stroke="black" stroke-width="2.0"/>
<line x1="274.50" y1="558.96" x2="301.35" y2="558.96" stroke="black" stroke-width="2.0"/>
<line x1="301.35" y1="563.44" x2="328.20" y2="563.44" stroke="black" stroke-width="2.0"/>
<line x1="328.20" y1="567.92" x2="355.05" y2="567.92" stroke="black" stroke-width="2.0"/>
<line x1="355.05" y1="572.40" x2="381.90" y2="572.40" stroke="black" stroke-width="2.0"/>
<line x1="355.05" y1="576.88" x2="381.90" y2="576.88" stroke="black" stroke-width="2.0"/>
<line x1="328.20" y1="574.64" x2="355.05" y2="574.64" stroke="black" stroke-width="2.0"/>
<line x1="301.35" y1="571.28" x2="328.20" y2="571.28" stroke="black" stroke-width="2.0"/>
<line x1="274.50" y1="567.36" x2="301.35" y2="567.36" stroke="black" stroke-width="2.0"/>
<line x1="247.65" y1="563.16" x2="274.50" y2="563.16" stroke="black" stroke-width="2.0"/>
<line x1="220.80" y1="353.84" x2="247.65" y2="353.84" stroke="black" stroke-width="2.0"/>
<line x1="247.65" y1="581.36" x2="274.50" y2="581.36" stroke="black" stroke-width="2.0"/>
<line x1="274.50" y1="585.83" x2="301.35" y2="585.83" stroke="black" stroke-width="2.0"/>
<line x1="301.35" y1="590.31" x2="328.20" y2="590.31" stroke="black" stroke-width="2.0"/>
<line x1="301.35" y1="594.79" x2="328.20" y2="594.79" stroke="black" stroke-width="2.0"/>
<line x1="274.50" y1="592.55" x2="301.35" y2="592.55" stroke="black" stroke-width="2.0"/>
<line x1="247.65" y1="589.19" x2="274.50" y2="589.19" stroke="black" stroke-width="2.0"/>
<line x1="220.80" y1="585.28" x2="247.65" y2="585.28" stroke="black" stroke-width="2.0"/>
<line x1="193.95" y1="469.56" x2="220.80" y2="469.56" stroke="black" stroke-width="2.0"/>
<line x1="193.95" y1="599.27" x2="220.80" y2="599.27" stroke="black" stroke-width="2.0"/>
<line x1="167.10" y1="534.42" x2="193.95" y2="534.42" stroke="black" stroke-width="2.0"/>
<line x1="167.10" y1="603.75" x2="193.95" y2="603.75" stroke="black" stroke-width="2.0"/>
<line x1="140.25" y1="569.08" x2="167.10" y2="569.08" stroke="black" stroke-width="2.0"/>
<line x1="167.10" y1="608.23" x2="193.95" y2="608.23" stroke="black" stroke-width="2.0"/>
<line x1="193.95" y1="612.71" x2="220.80" y2="612.71" stroke="black" stroke-width="2.0"/>
<line x1="381.90" y1="617.19" x2="408.75" y2="617.19" stroke="black" stroke-width="2.0"/>
<line x1="381.90" y1="621.67" x2="408.75" y2="621.67" stroke="black" stroke-width="2.0"/>
<line x1="355.05" y1="619.43" x2="381.90" y2="619.43" stroke="black" stroke-width="2.0"/>
<line x1="355.05" y1="626.15" x2="381.90" y2="626.15" stroke="black" stroke-width="2.0"/>
<line x1="328.20" y1="622.79" x2="355.05" y2="622.79" stroke="black" stroke-width="2.0"/>
<line x1="328.20" y1="630.63" x2="355.05" y2="630.63" stroke="black" stroke-width="2.0"/>
<line x1="301.35" y1="626.71" x2="328.20" y2="626.71" stroke="black" stroke-width="2.0"/>
<line x1="301.35" y1="635.11" x2="328.20" y2="635.11" stroke="black" stroke-width="2.0"/>
<line x1="274.50" y1="630.91" x2="301.35" y2="630.91" stroke="black" stroke-width="2.0"/>
<line x1="301.35" y1="639.59" x2="328.20" y2="639.59" stroke="black" stroke-width="2.0"/>
<line x1="328.20" y1="644.07" x2="355.05" y2="644.07" stroke="black" stroke-width="2.0"/>
<line x1="328.20" y1="648.55" x2="355.05" y2="648.55" stroke="black" stroke-width="2.0"/>
<line x1="301.35" y1="646.31" x2="328.20" y2="646.31" stroke="black" stroke-width="2.0"/>
<line x1="274.50" y1="642.95" x2="301.35" y2="642.95" stroke="black" stroke-width="2.0"/>
<line x1="247.65" y1="636.93" x2="274.50" y2="636.93" stroke="black" stroke-width="2.0"/>
<line x1="274.50" y1="653.03" x2="301.35" y2="653.03" stroke="black" stroke-width="2.0"/>
<line x1="301.35" y1="657.51" x2="328.20" y2="657.51" stroke="black" stroke-width="2.0"/>
<line x1="328.20" y1="661.99" x2="355.05" y2="661.99" stroke="black" stroke-width="2.0"/>
<line x1="328.20" y1="666.47" x2="355.05" y2="666.47" stroke="black" stroke-width="2.0"/>
<line x1="301.35" y1="664.23" x2="328.20" y2="664.23" stroke="black" stroke-width="2.0"/>
<line x1="274.50" y1="660.87" x2="301.35" y2="660.87" stroke="black" stroke-width="2.0"/>
<line x1="247.65" y1="656.95" x2="274.50" y2="656.95" stroke="black" stroke-width="2.0"/>
<line x1="220.80" y1="646.94" x2="247.65" y2="646.94" stroke="black" stroke-width="2.0"/>
<line x1="220.80" y1="670.95" x2="247.65" y2="670.95" stroke="black" stroke-width="2.0"/>
<line x1="274.50" y1="675.42" x2="301.35" y2="675.42" stroke="black" stroke-width="2.0"/>
<line x1="274.50" y1="679.90" x2="301.35" y2="679.90" stroke="black" stroke-width="2.0"/>
<line x1="247.65" y1="677.66" x2="274.50" y2="677.66" stroke="black" stroke-width="2.0"/>
<line x1="355.05" y1="684.38" x2="381.90" y2="684.38" stroke="black" stroke-width="2.0"/>
<line x1="355.05" y1="688.86" x2="381.90" y2="688.86" stroke="black" stroke-width="2.0"/>
<line x1="355.05" y1="693.34" x2="381.90" y2="693.34" stroke="black" stroke-width="2.0"/>
<line x1="355.05" y1="697.82" x2="381.90" y2="697.82" stroke="black" stroke-width="2.0"/>
<line x1="355.05" y1="702.30" x2="381.90" y2="702.30" stroke="black" stroke-width="2.0"/>
<line x1="328.20" y1="693.34" x2="355.05" y2="693.34" stroke="black" stroke-width="2.0"/>
<line x1="328.20" y1="706.78" x2="355.05" y2="706.78" stroke="black" stroke-width="2.0"/>
<line x1="301.35" y1="700.06" x2="328.20" y2="700.06" stroke="black" stroke-width="2.0"/>
<line x1="301.35" y1="711.26" x2="328.20" y2="711.26" stroke="black" stroke-width="2.0"/>
<line x1="274.50" y1="705.66" x2="301.35" y2="705.66" stroke="black" stroke-width="2.0"/>
<line x1="274.50" y1="715.74" x2="301.35" y2="715.74" stroke="black" stroke-width="2.0"/>
<line x1="301.35" y1="720.22" x2="328.20" y2="720.22" stroke="black" stroke-width="2.0"/>
<line x1="301.35" y1="724.70" x2="328.20" y2="724.70" stroke="black" stroke-width="2.0"/>
<line x1="274.50" y1="722.46" x2="301.35" y2="722.46" stroke="black" stroke-width="2.0"/>
<line x1="247.65" y1="714.62" x2="274.50" y2="714.62" stroke="black" stroke-width="2.0"/>
<line x1="247.65" y1="729.18" x2="274.50" y2="729.18" stroke="black" stroke-width="2.0"/>
<line x1="247.65" y1="733.66" x2="274.50" y2="733.66" stroke="black" stroke-width="2.0"/>
<line x1="247.65" y1="738.14" x2="274.50" y2="738.14" stroke="black" stroke-width="2.0"/>
<line x1="274.50" y1="742.62" x2="301.35" y2="742.62" stroke="black" stroke-width="2.0"/>
<line x1="301.35" y1="747.10" x2="328.20" y2="747.10" stroke="black" stroke-width="2.0"/>
<line x1="301.35" y1="751.58" x2="328.20" y2="751.58" stroke="black" stroke-width="2.0"/>
<line x1="274.50" y1="749.34" x2="301.35" y2="749.34" stroke="black" stroke-width="2.0"/>
<line x1="328.20" y1="756.06" x2="355.05" y2="756.06" stroke="black" stroke-width="2.0"/>
<line x1="328.20" y1="760.54" x2="355.05" y2="760.54" stroke="black" stroke-width="2.0"/>
<line x1="301.35" y1="758.30" x2="328.20" y2="758.30" stroke="black" stroke-width="2.0"/>
<line x1="301.35" y1="765.01" x2="328.20" y2="765.01" stroke="black" stroke-width="2.0"/>
<line x1="274.50" y1="761.66" x2="301.35" y2="761.66" stroke="black" stroke-width="2.0"/>
<line x1="274.50" y1="769.49" x2="301.35" y2="769.49" stroke="black" stroke-width="2.0"/>
<line x1="274.50" y1="773.97" x2="301.35" y2="773.97" stroke="black" stroke-width="2.0"/>
<line x1="301.35" y1="778.45" x2="328.20" y2="778.45" stroke="black" stroke-width="2.0"/>
<line x1="328.20" y1="782.93" x2="355.05" y2="782.93" stroke="black" stroke-width="2.0"/>
<line x1="328.20" y1="787.41" x2="355.05" y2="787.41" stroke="black" stroke-width="2.0"/>
<line x1="328.20" y1="791.89" x2="355.05" y2="791.89" stroke="black" stroke-width="2.0"/>
<line x1="328.20" y1="796.37" x2="355.05" y2="796.37" stroke="black" stroke-width="2.0"/>
<line x1="301.35" y1="789.65" x2="328.20" y2="789.65" stroke="black" stroke-width="2.0"/>
<line x1="274.50" y1="784.05" x2="301.35" y2="784.05" stroke="black" stroke-width="2.0"/>
<line x1="247.65" y1="763.52" x2="274.50" y2="763.52" stroke="black" stroke-width="2.0"/>
<line x1="220.80" y1="726.13" x2="247.65" y2="726.13" stroke="black" stroke-width="2.0"/>
<line x1="193.95" y1="681.34" x2="220.80" y2="681.34" stroke="black" stroke-width="2.0"/>
<line x1="167.10" y1="647.03" x2="193.95" y2="647.03" stroke="black" stroke-width="2.0"/>
<line x1="140.25" y1="627.63" x2="167.10" y2="627.63" stroke="black" stroke-width="2.0"/>
<line x1="113.40" y1="598.36" x2="140.25" y2="598.36" stroke="black" stroke-width="2.0"/>
<line x1="113.40" y1="800.85" x2="140.25" y2="800.85" stroke="black" stroke-width="2.0"/>
<line x1="86.55" y1="699.60" x2="113.40" y2="699.60" stroke="black" stroke-width="2.0"/>
<line x1="140.25" y1="805.33" x2="167.10" y2="805.33" stroke="black" stroke-width="2.0"/>
<line x1="140.25" y1="809.81" x2="167.10" y2="809.81" stroke="black" stroke-width="2.0"/>
<line x1="113.40" y1="807.57" x2="140.25" y2="807.57" stroke="black" stroke-width="2.0"/>
<line x1="140.25" y1="814.29" x2="167.10" y2="814.29" stroke="black" stroke-width="2.0"/>
<line x1="167.10" y1="818.77" x2="193.95" y2="818.77" stroke="black" stroke-width="2.0"/>
<line x1="167.10" y1="823.25" x2="193.95" y2="823.25" stroke="black" stroke-width="2.0"/>
<line x1="193.95" y1="827.73" x2="220.80" y2="827.73" stroke="black" stroke-width="2.0"/>
<line x1="193.95" y1="832.21" x2="220.80" y2="832.21" stroke="black" stroke-width="2.0"/>
<line x1="167.10" y1="829.97" x2="193.95" y2="829.97" stroke="black" stroke-width="2.0"/>
<line x1="167.10" y1="836.69" x2="193.95" y2="836.69" stroke="black" stroke-width="2.0"/>
<line x1="167.10" y1="841.17" x2="193.95" y2="841.17" stroke="black" stroke-width="2.0"/>
<line x1="193.95" y1="845.65" x2="220.80" y2="845.65" stroke="black" stroke-width="2.0"/>
<line x1="220.80" y1="850.13" x2="247.65" y2="850.13" stroke="black" stroke-width="2.0"/>
<line x1="220.80" y1="854.61" x2="247.65" y2="854.61" stroke="black" stroke-width="2.0"/>
<line x1="193.95" y1="852.37" x2="220.80" y2="852.37" stroke="black" stroke-width="2.0"/>
<line x1="167.10" y1="849.01" x2="193.95" y2="849.01" stroke="black" stroke-width="2.0"/>
<line x1="167.10" y1="859.08" x2="193.95" y2="859.08" stroke="black" stroke-width="2.0"/>
<line x1="167.10" y1="863.56" x2="193.95" y2="863.56" stroke="black" stroke-width="2.0"/>
<line x1="167.10" y1="868.04" x2="193.95" y2="868.04" stroke="black" stroke-width="2.0"/>
<line x1="167.10" y1="872.52" x2="193.95" y2="872.52" stroke="black" stroke-width="2.0"/>
<line x1="167.10" y1="877.00" x2="193.95" y2="877.00" stroke="black" stroke-width="2.0"/>
<line x1="167.10" y1="881.48" x2="193.95" y2="881.48" stroke="black" stroke-width="2.0"/>
<line x1="167.10" y1="885.96" x2="193.95" y2="885.96" stroke="black" stroke-width="2.0"/>
<line x1="167.10" y1="890.44" x2="193.95" y2="890.44" stroke="black" stroke-width="2.0"/>
<line x1="193.95" y1="894.92" x2="220.80" y2="894.92" stroke="black" stroke-width="2.0"/>
<line x1="193.95" y1="899.40" x2="220.80" y2="899.40" stroke="black" stroke-width="2.0"/>
<line x1="167.10" y1="897.16" x2="193.95" y2="897.16" stroke="black" stroke-width="2.0"/>
<line x1="167.10" y1="903.88" x2="193.95" y2="903.88" stroke="black" stroke-width="2.0"/>
<line x1="167.10" y1="908.36" x2="193.95" y2="908.36" stroke="black" stroke-width="2.0"/>
<line x1="193.95" y1="912.84" x2="220.80" y2="912.84" stroke="black" stroke-width="2.0"/>
<line x1="193.95" y1="917.32" x2="220.80" y2="917.32" stroke="black" stroke-width="2.0"/>
<line x1="167.10" y1="915.08" x2="193.95" y2="915.08" stroke="black" stroke-width="2.0"/>
<line x1="167.10" y1="921.80" x2="193.95" y2="921.80" stroke="black" stroke-width="2.0"/>
<line x1="167.10" y1="926.28" x2="193.95" y2="926.28" stroke="black" stroke-width="2.0"/>
<line x1="193.95" y1="930.76" x2="220.80" y2="930.76" stroke="black" stroke-width="2.0"/>
<line x1="193.95" y1="935.24" x2="220.80" y2="935.24" stroke="black" stroke-width="2.0"/>
<line x1="193.95" y1="939.72" x2="220.80" y2="939.72" stroke="black" stroke-width="2.0"/>
<line x1="167.10" y1="935.24" x2="193.95" y2="935.24" stroke="black" stroke-width="2.0"/>
<line x1="167.10" y1="944.19" x2="193.95" y2="944.19" stroke="black" stroke-width="2.0"/>
<line x1="167.10" y1="948.67" x2="193.95" y2="948.67" stroke="black" stroke-width="2.0"/>
<line x1="167.10" y1="953.15" x2="193.95" y2="953.15" stroke="black" stroke-width="2.0"/>
<line x1="167.10" y1="957.63" x2="193.95" y2="957.63" stroke="black" stroke-width="2.0"/>
<line x1="167.10" y1="962.11" x2="193.95" y2="962.11" stroke="black" stroke-width="2.0"/>
<line x1="193.95" y1="966.59" x2="220.80" y2="966.59" stroke="black" stroke-width="2.0"/>
<line x1="193.95" y1="971.07" x2="220.80" y2="971.07" stroke="black" stroke-width="2.0"/>
<line x1="193.95" y1="975.55" x2="220.80" y2="975.55" stroke="black" stroke-width="2.0"/>
<line x1="167.10" y1="971.07" x2="193.95" y2="971.07" stroke="black" stroke-width="2.0"/>
<line x1="193.95" y1="980.03" x2="220.80" y2="980.03" stroke="black" stroke-width="2.0"/>
<line x1="193.95" y1="984.51" x2="220.80" y2="984.51" stroke="black" stroke-width="2.0"/>
<line x1="167.10" y1="982.27" x2="193.95" y2="982.27" stroke="black" stroke-width="2.0"/>
<line x1="167.10" y1="988.99" x2="193.95" y2="988.99" stroke="black" stroke-width="2.0"/>
<line x1="167.10" y1="993.47" x2="193.95" y2="993.47" stroke="black" stroke-width="2.0"/>
<line x1="167.10" y1="997.95" x2="193.95" y2="997.95" stroke="black" stroke-width="2.0"/>
<line x1="167.10" y1="1002.43" x2="193.95" y2="1002.43" stroke="black" stroke-width="2.0"/>
<line x1="167.10" y1="1006.91" x2="193.95" y2="1006.91" stroke="black" stroke-width="2.0"/>
<line x1="167.10" y1="1011.39" x2="193.95" y2="1011.39" stroke="black" stroke-width="2.0"/>
<line x1="167.10" y1="1015.87" x2="193.95" y2="1015.87" stroke="black" stroke-width="2.0"/>
<line x1="167.10" y1="1020.35" x2="193.95" y2="1020.35" stroke="black" stroke-width="2.0"/>
<line x1="167.10" y1="1024.83" x2="193.95" y2="1024.83" stroke="black" stroke-width="2.0"/>
<line x1="167.10" y1="1029.31" x2="193.95" y2="1029.31" stroke="black" stroke-width="2.0"/>
<line x1="167.10" y1="1033.78" x2="193.95" y2="1033.78" stroke="black" stroke-width="2.0"/>
<line x1="193.95" y1="1038.26" x2="220.80" y2="1038.26" stroke="black" stroke-width="2.0"/>
<line x1="220.80" y1="1042.74" x2="247.65" y2="1042.74" stroke="black" stroke-width="2.0"/>
<line x1="220.80" y1="1047.22" x2="247.65" y2="1047.22" stroke="black" stroke-width="2.0"/>
<line x1="220.80" y1="1051.70" x2="247.65" y2="1051.70" stroke="black" stroke-width="2.0"/>
<line x1="220.80" y1="1056.18" x2="247.65" y2="1056.18" stroke="black" stroke-width="2.0"/>
<line x1="193.95" y1="1049.46" x2="220.80" y2="1049.46" stroke="black" stroke-width="2.0"/>
<line x1="167.10" y1="1043.86" x2="193.95" y2="1043.86" stroke="black" stroke-width="2.0"/>
<line x1="167.10" y1="1060.66" x2="193.95" y2="1060.66" stroke="black" stroke-width="2.0"/>
<line x1="193.95" y1="1065.14" x2="220.80" y2="1065.14" stroke="black" stroke-width="2.0"/>
<line x1="193.95" y1="1069.62" x2="220.80" y2="1069.62" stroke="black" stroke-width="2.0"/>
<line x1="193.95" y1="1074.10" x2="220.80" y2="1074.10" stroke="black" stroke-width="2.0"/>
<line x1="167.10" y1="1069.62" x2="193.95" y2="1069.62" stroke="black" stroke-width="2.0"/>
<line x1="193.95" y1="1078.58" x2="220.80" y2="1078.58" stroke="black" stroke-width="2.0"/>
<line x1="193.95" y1="1083.06" x2="220.80" y2="1083.06" stroke="black" stroke-width="2.0"/>
<line x1="167.10" y1="1080.82" x2="193.95" y2="1080.82" stroke="black" stroke-width="2.0"/>
<line x1="220.80" y1="1087.54" x2="247.65" y2="1087.54" stroke="black" stroke-width="2.0"/>
<line x1="220.80" y1="1092.02" x2="247.65" y2="1092.02" stroke="black" stroke-width="2.0"/>
<line x1="220.80" y1="1096.50" x2="247.65" y2="1096.50" stroke="black" stroke-width="2.0"/>
<line x1="220.80" y1="1100.98" x2="247.65" y2="1100.98" stroke="black" stroke-width="2.0"/>
<line x1="220.80" y1="1105.46" x2="247.65" y2="1105.46" stroke="black" stroke-width="2.0"/>
<line x1="193.95" y1="1096.50" x2="220.80" y2="1096.50" stroke="black" stroke-width="2.0"/>
<line x1="193.95" y1="1109.94" x2="220.80" y2="1109.94" stroke="black" stroke-width="2.0"/>
<line x1="193.95" y1="1114.42" x2="220.80" y2="1114.42" stroke="black" stroke-width="2.0"/>
<line x1="167.10" y1="1106.95" x2="193.95" y2="1106.95" stroke="black" stroke-width="2.0"/>
<line x1="167.10" y1="1118.90" x2="193.95" y2="1118.90" stroke="black" stroke-width="2.0"/>
<line x1="167.10" y1="1123.38" x2="193.95" y2="1123.38" stroke="black" stroke-width="2.0"/>
<line x1="167.10" y1="1127.85" x2="193.95" y2="1127.85" stroke="black" stroke-width="2.0"/>
<line x1="220.80" y1="1132.33" x2="247.65" y2="1132.33" stroke="black" stroke-width="2.0"/>
<line x1="220.80" y1="1136.81" x2="247.65" y2="1136.81" stroke="black" stroke-width="2.0"/>
<line x1="193.95" y1="1134.57" x2="220.80" y2="1134.57" stroke="black" stroke-width="2.0"/>
<line x1="193.95" y1="1141.29" x2="220.80" y2="1141.29" stroke="black" stroke-width="2.0"/>
<line x1="167.10" y1="1137.93" x2="193.95" y2="1137.93" stroke="black" stroke-width="2.0"/>
<line x1="167.10" y1="1145.77" x2="193.95" y2="1145.77" stroke="black" stroke-width="2.0"/>
<line x1="167.10" y1="1150.25" x2="193.95" y2="1150.25" stroke="black" stroke-width="2.0"/>
<line x1="167.10" y1="1154.73" x2="193.95" y2="1154.73" stroke="black" stroke-width="2.0"/>
<line x1="167.10" y1="1159.21" x2="193.95" y2="1159.21" stroke="black" stroke-width="2.0"/>
<line x1="167.10" y1="1163.69" x2="193.95" y2="1163.69" stroke="black" stroke-width="2.0"/>
<line x1="167.10" y1="1168.17" x2="193.95" y2="1168.17" stroke="black" stroke-width="2.0"/>
<line x1="167.10" y1="1172.65" x2="193.95" y2="1172.65" stroke="black" stroke-width="2.0"/>
<line x1="167.10" y1="1177.13" x2="193.95" y2="1177.13" stroke="black" stroke-width="2.0"/>
<line x1="167.10" y1="1181.61" x2="193.95" y2="1181.61" stroke="black" stroke-width="2.0"/>
<line x1="140.25" y1="992.85" x2="167.10" y2="992.85" stroke="black" stroke-width="2.0"/>
<line x1="113.40" y1="903.57" x2="140.25" y2="903.57" stroke="black" stroke-width="2.0"/>
<line x1="86.55" y1="855.57" x2="113.40" y2="855.57" stroke="black" stroke-width="2.0"/>
<line x1="59.70" y1="777.59" x2="86.55" y2="777.59" stroke="black" stroke-width="2.0"/>
<line x1="59.70" y1="1186.09" x2="86.55" y2="1186.09" stroke="#E0501A" stroke-width="1.6"/>
<line x1="86.55" y1="1190.57" x2="113.40" y2="1190.57" stroke="black" stroke-width="2.0"/>
<line x1="86.55" y1="1195.05" x2="113.40" y2="1195.05" stroke="black" stroke-width="2.0"/>
<line x1="59.70" y1="1192.81" x2="86.55" y2="1192.81" stroke="black" stroke-width="2.0"/>
<line x1="167.10" y1="1199.53" x2="193.95" y2="1199.53" stroke="black" stroke-width="2.0"/>
<line x1="167.10" y1="1204.01" x2="193.95" y2="1204.01" stroke="black" stroke-width="2.0"/>
<line x1="140.25" y1="1201.77" x2="167.10" y2="1201.77" stroke="black" stroke-width="2.0"/>
<line x1="140.25" y1="1208.49" x2="167.10" y2="1208.49" stroke="black" stroke-width="2.0"/>
<line x1="113.40" y1="1205.13" x2="140.25" y2="1205.13" stroke="black" stroke-width="2.0"/>
<line x1="113.40" y1="1212.96" x2="140.25" y2="1212.96" stroke="black" stroke-width="2.0"/>
<line x1="86.55" y1="1209.05" x2="113.40" y2="1209.05" stroke="black" stroke-width="2.0"/>
<line x1="167.10" y1="1217.44" x2="193.95" y2="1217.44" stroke="black" stroke-width="2.0"/>
<line x1="167.10" y1="1221.92" x2="193.95" y2="1221.92" stroke="black" stroke-width="2.0"/>
<line x1="140.25" y1="1219.68" x2="167.10" y2="1219.68" stroke="black" stroke-width="2.0"/>
<line x1="140.25" y1="1226.40" x2="167.10" y2="1226.40" stroke="black" stroke-width="2.0"/>
<line x1="113.40" y1="1223.04" x2="140.25" y2="1223.04" stroke="black" stroke-width="2.0"/>
<line x1="140.25" y1="1230.88" x2="167.10" y2="1230.88" stroke="black" stroke-width="2.0"/>
<line x1="167.10" y1="1235.36" x2="193.95" y2="1235.36" stroke="black" stroke-width="2.0"/>
<line x1="167.10" y1="1239.84" x2="193.95" y2="1239.84" stroke="black" stroke-width="2.0"/>
<line x1="140.25" y1="1237.60" x2="167.10" y2="1237.60" stroke="black" stroke-width="2.0"/>
<line x1="247.65" y1="1244.32" x2="274.50" y2="1244.32" stroke="black" stroke-width="2.0"/>
<line x1="247.65" y1="1248.80" x2="274.50" y2="1248.80" stroke="black" stroke-width="2.0"/>
<line x1="220.80" y1="1246.56" x2="247.65" y2="1246.56" stroke="black" stroke-width="2.0"/>
<line x1="247.65" y1="1253.28" x2="274.50" y2="1253.28" stroke="black" stroke-width="2.0"/>
<line x1="247.65" y1="1257.76" x2="274.50" y2="1257.76" stroke="black" stroke-width="2.0"/>
<line x1="220.80" y1="1255.52" x2="247.65" y2="1255.52" stroke="black" stroke-width="2.0"/>
<line x1="220.80" y1="1262.24" x2="247.65" y2="1262.24" stroke="black" stroke-width="2.0"/>
<line x1="220.80" y1="1266.72" x2="247.65" y2="1266.72" stroke="black" stroke-width="2.0"/>
<line x1="193.95" y1="1257.76" x2="220.80" y2="1257.76" stroke="black" stroke-width="2.0"/>
<line x1="193.95" y1="1271.20" x2="220.80" y2="1271.20" stroke="black" stroke-width="2.0"/>
<line x1="167.10" y1="1264.48" x2="193.95" y2="1264.48" stroke="black" stroke-width="2.0"/>
<line x1="193.95" y1="1275.68" x2="220.80" y2="1275.68" stroke="black" stroke-width="2.0"/>
<line x1="220.80" y1="1280.16" x2="247.65" y2="1280.16" stroke="black" stroke-width="2.0"/>
<line x1="247.65" y1="1284.64" x2="274.50" y2="1284.64" stroke="black" stroke-width="2.0"/>
<line x1="274.50" y1="1289.12" x2="301.35" y2="1289.12" stroke="black" stroke-width="2.0"/>
<line x1="274.50" y1="1293.60" x2="301.35" y2="1293.60" stroke="black" stroke-width="2.0"/>
<line x1="247.65" y1="1291.36" x2="274.50" y2="1291.36" stroke="black" stroke-width="2.0"/>
<line x1="220.80" y1="1288.00" x2="247.65" y2="1288.00" stroke="black" stroke-width="2.0"/>
<line x1="193.95" y1="1284.08" x2="220.80" y2="1284.08" stroke="black" stroke-width="2.0"/>
<line x1="167.10" y1="1279.88" x2="193.95" y2="1279.88" stroke="black" stroke-width="2.0"/>
<line x1="140.25" y1="1272.18" x2="167.10" y2="1272.18" stroke="black" stroke-width="2.0"/>
<line x1="167.10" y1="1298.08" x2="193.95" y2="1298.08" stroke="black" stroke-width="2.0"/>
<line x1="193.95" y1="1302.55" x2="220.80" y2="1302.55" stroke="black" stroke-width="2.0"/>
<line x1="220.80" y1="1307.03" x2="247.65" y2="1307.03" stroke="black" stroke-width="2.0"/>
<line x1="247.65" y1="1311.51" x2="274.50" y2="1311.51" stroke="black" stroke-width="2.0"/>
<line x1="247.65" y1="1315.99" x2="274.50" y2="1315.99" stroke="black" stroke-width="2.0"/>
<line x1="220.80" y1="1313.75" x2="247.65" y2="1313.75" stroke="black" stroke-width="2.0"/>
<line x1="193.95" y1="1310.39" x2="220.80" y2="1310.39" stroke="black" stroke-width="2.0"/>
<line x1="167.10" y1="1306.47" x2="193.95" y2="1306.47" stroke="black" stroke-width="2.0"/>
<line x1="140.25" y1="1302.28" x2="167.10" y2="1302.28" stroke="black" stroke-width="2.0"/>
<line x1="167.10" y1="1320.47" x2="193.95" y2="1320.47" stroke="black" stroke-width="2.0"/>
<line x1="167.10" y1="1324.95" x2="193.95" y2="1324.95" stroke="black" stroke-width="2.0"/>
<line x1="140.25" y1="1322.71" x2="167.10" y2="1322.71" stroke="black" stroke-width="2.0"/>
<line x1="140.25" y1="1329.43" x2="167.10" y2="1329.43" stroke="black" stroke-width="2.0"/>
<line x1="167.10" y1="1333.91" x2="193.95" y2="1333.91" stroke="black" stroke-width="2.0"/>
<line x1="167.10" y1="1338.39" x2="193.95" y2="1338.39" stroke="black" stroke-width="2.0"/>
<line x1="220.80" y1="1342.87" x2="247.65" y2="1342.87" stroke="black" stroke-width="2.0"/>
<line x1="220.80" y1="1347.35" x2="247.65" y2="1347.35" stroke="black" stroke-width="2.0"/>
<line x1="193.95" y1="1345.11" x2="220.80" y2="1345.11" stroke="black" stroke-width="2.0"/>
<line x1="274.50" y1="1351.83" x2="301.35" y2="1351.83" stroke="black" stroke-width="2.0"/>
<line x1="274.50" y1="1356.31" x2="301.35" y2="1356.31" stroke="black" stroke-width="2.0"/>
<line x1="247.65" y1="1354.07" x2="274.50" y2="1354.07" stroke="black" stroke-width="2.0"/>
<line x1="274.50" y1="1360.79" x2="301.35" y2="1360.79" stroke="black" stroke-width="2.0"/>
<line x1="274.50" y1="1365.27" x2="301.35" y2="1365.27" stroke="black" stroke-width="2.0"/>
<line x1="247.65" y1="1363.03" x2="274.50" y2="1363.03" stroke="black" stroke-width="2.0"/>
<line x1="220.80" y1="1358.55" x2="247.65" y2="1358.55" stroke="black" stroke-width="2.0"/>
<line x1="381.90" y1="1369.75" x2="408.75" y2="1369.75" stroke="black" stroke-width="2.0"/>
<line x1="381.90" y1="1374.23" x2="408.75" y2="1374.23" stroke="black" stroke-width="2.0"/>
<line x1="381.90" y1="1378.71" x2="408.75" y2="1378.71" stroke="black" stroke-width="2.0"/>
<line x1="381.90" y1="1383.19" x2="408.75" y2="1383.19" stroke="black" stroke-width="2.0"/>
<line x1="355.05" y1="1376.47" x2="381.90" y2="1376.47" stroke="black" stroke-width="2.0"/>
<line x1="355.05" y1="1387.67" x2="381.90" y2="1387.67" stroke="black" stroke-width="2.0"/>
<line x1="328.20" y1="1382.07" x2="355.05" y2="1382.07" stroke="black" stroke-width="2.0"/>
<line x1="328.20" y1="1392.14" x2="355.05" y2="1392.14" stroke="black" stroke-width="2.0"/>
<line x1="301.35" y1="1387.11" x2="328.20" y2="1387.11" stroke="black" stroke-width="2.0"/>
<line x1="301.35" y1="1396.62" x2="328.20" y2="1396.62" stroke="black" stroke-width="2.0"/>
<line x1="274.50" y1="1391.87" x2="301.35" y2="1391.87" stroke="black" stroke-width="2.0"/>
<line x1="274.50" y1="1401.10" x2="301.35" y2="1401.10" stroke="black" stroke-width="2.0"/>
<line x1="274.50" y1="1405.58" x2="301.35" y2="1405.58" stroke="black" stroke-width="2.0"/>
<line x1="274.50" y1="1410.06" x2="301.35" y2="1410.06" stroke="black" stroke-width="2.0"/>
<line x1="274.50" y1="1414.54" x2="301.35" y2="1414.54" stroke="black" stroke-width="2.0"/>
<line x1="274.50" y1="1419.02" x2="301.35" y2="1419.02" stroke="black" stroke-width="2.0"/>
<line x1="328.20" y1="1423.50" x2="355.05" y2="1423.50" stroke="black" stroke-width="2.0"/>
<line x1="328.20" y1="1427.98" x2="355.05" y2="1427.98" stroke="black" stroke-width="2.0"/>
<line x1="301.35" y1="1425.74" x2="328.20" y2="1425.74" stroke="black" stroke-width="2.0"/>
<line x1="328.20" y1="1432.46" x2="355.05" y2="1432.46" stroke="black" stroke-width="2.0"/>
<line x1="328.20" y1="1436.94" x2="355.05" y2="1436.94" stroke="black" stroke-width="2.0"/>
<line x1="301.35" y1="1434.70" x2="328.20" y2="1434.70" stroke="black" stroke-width="2.0"/>
<line x1="274.50" y1="1430.22" x2="301.35" y2="1430.22" stroke="black" stroke-width="2.0"/>
<line x1="247.65" y1="1410.34" x2="274.50" y2="1410.34" stroke="black" stroke-width="2.0"/>
<line x1="274.50" y1="1441.42" x2="301.35" y2="1441.42" stroke="black" stroke-width="2.0"/>
<line x1="328.20" y1="1445.90" x2="355.05" y2="1445.90" stroke="black" stroke-width="2.0"/>
<line x1="328.20" y1="1450.38" x2="355.05" y2="1450.38" stroke="black" stroke-width="2.0"/>
<line x1="301.35" y1="1448.14" x2="328.20" y2="1448.14" stroke="black" stroke-width="2.0"/>
<line x1="328.20" y1="1454.86" x2="355.05" y2="1454.86" stroke="black" stroke-width="2.0"/>
<line x1="489.30" y1="1459.34" x2="516.15" y2="1459.34" stroke="black" stroke-width="2.0"/>
<line x1="489.30" y1="1463.82" x2="516.15" y2="1463.82" stroke="black" stroke-width="2.0"/>
<line x1="462.45" y1="1461.58" x2="489.30" y2="1461.58" stroke="black" stroke-width="2.0"/>
<line x1="462.45" y1="1468.30" x2="489.30" y2="1468.30" stroke="black" stroke-width="2.0"/>
<line x1="435.60" y1="1464.94" x2="462.45" y2="1464.94" stroke="black" stroke-width="2.0"/>
<line x1="435.60" y1="1472.78" x2="462.45" y2="1472.78" stroke="black" stroke-width="2.0"/>
<line x1="408.75" y1="1468.86" x2="435.60" y2="1468.86" stroke="black" stroke-width="2.0"/>
<line x1="408.75" y1="1477.26" x2="435.60" y2="1477.26" stroke="black" stroke-width="2.0"/>
<line x1="381.90" y1="1473.06" x2="408.75" y2="1473.06" stroke="black" stroke-width="2.0"/>
<line x1="381.90" y1="1481.73" x2="408.75" y2="1481.73" stroke="black" stroke-width="2.0"/>
<line x1="355.05" y1="1477.40" x2="381.90" y2="1477.40" stroke="black" stroke-width="2.0"/>
<line x1="355.05" y1="1486.21" x2="381.90" y2="1486.21" stroke="black" stroke-width="2.0"/>
<line x1="355.05" y1="1490.69" x2="381.90" y2="1490.69" stroke="black" stroke-width="2.0"/>
<line x1="381.90" y1="1495.17" x2="408.75" y2="1495.17" stroke="black" stroke-width="2.0"/>
<line x1="435.60" y1="1499.65" x2="462.45" y2="1499.65" stroke="black" stroke-width="2.0"/>
<line x1="435.60" y1="1504.13" x2="462.45" y2="1504.13" stroke="black" stroke-width="2.0"/>
<line x1="408.75" y1="1501.89" x2="435.60" y2="1501.89" stroke="black" stroke-width="2.0"/>
<line x1="435.60" y1="1508.61" x2="462.45" y2="1508.61" stroke="black" stroke-width="2.0"/>
<line x1="435.60" y1="1513.09" x2="462.45" y2="1513.09" stroke="black" stroke-width="2.0"/>
<line x1="408.75" y1="1510.85" x2="435.60" y2="1510.85" stroke="black" stroke-width="2.0"/>
<line x1="381.90" y1="1506.37" x2="408.75" y2="1506.37" stroke="black" stroke-width="2.0"/>
<line x1="355.05" y1="1500.77" x2="381.90" y2="1500.77" stroke="black" stroke-width="2.0"/>
<line x1="328.20" y1="1488.77" x2="355.05" y2="1488.77" stroke="black" stroke-width="2.0"/>
<line x1="301.35" y1="1471.81" x2="328.20" y2="1471.81" stroke="black" stroke-width="2.0"/>
<line x1="274.50" y1="1459.98" x2="301.35" y2="1459.98" stroke="black" stroke-width="2.0"/>
<line x1="247.65" y1="1450.70" x2="274.50" y2="1450.70" stroke="black" stroke-width="2.0"/>
<line x1="220.80" y1="1430.52" x2="247.65" y2="1430.52" stroke="black" stroke-width="2.0"/>
<line x1="193.95" y1="1394.53" x2="220.80" y2="1394.53" stroke="black" stroke-width="2.0"/>
<line x1="167.10" y1="1369.82" x2="193.95" y2="1369.82" stroke="black" stroke-width="2.0"/>
<line x1="140.25" y1="1347.37" x2="167.10" y2="1347.37" stroke="black" stroke-width="2.0"/>
<line x1="113.40" y1="1291.78" x2="140.25" y2="1291.78" stroke="black" stroke-width="2.0"/>
<line x1="86.55" y1="1257.41" x2="113.40" y2="1257.41" stroke="black" stroke-width="2.0"/>
<line x1="59.70" y1="1233.23" x2="86.55" y2="1233.23" stroke="black" stroke-width="2.0"/>
<line x1="59.70" y1="1517.57" x2="86.55" y2="1517.57" stroke="black" stroke-width="2.0"/>
<line x1="86.55" y1="1522.05" x2="113.40" y2="1522.05" stroke="black" stroke-width="2.0"/>
<line x1="86.55" y1="1526.53" x2="113.40" y2="1526.53" stroke="black" stroke-width="2.0"/>
<line x1="59.70" y1="1524.29" x2="86.55" y2="1524.29" stroke="black" stroke-width="2.0"/>
<line x1="32.85" y1="1238.60" x2="59.70" y2="1238.60" stroke="black" stroke-width="2.0"/>
<line x1="32.85" y1="1531.01" x2="59.70" y2="1531.01" stroke="#C0392B" stroke-width="1.6"/>
<line x1="6.00" y1="1384.80" x2="32.85" y2="1384.80" stroke="black" stroke-width="2.0"/>
<line x1="32.85" y1="1535.49" x2="59.70" y2="1535.49" stroke="black" stroke-width="2.0"/>
<line x1="59.70" y1="1539.97" x2="86.55" y2="1539.97" stroke="black" stroke-width="2.0"/>
<line x1="86.55" y1="1544.45" x2="113.40" y2="1544.45" stroke="black" stroke-width="2.0"/>
<line x1="113.40" y1="1548.93" x2="140.25" y2="1548.93" stroke="black" stroke-width="2.0"/>
<line x1="113.40" y1="1553.41" x2="140.25" y2="1553.41" stroke="black" stroke-width="2.0"/>
<line x1="86.55" y1="1551.17" x2="113.40" y2="1551.17" stroke="black" stroke-width="2.0"/>
<line x1="59.70" y1="1547.81" x2="86.55" y2="1547.81" stroke="black" stroke-width="2.0"/>
<line x1="32.85" y1="1543.89" x2="59.70" y2="1543.89" stroke="black" stroke-width="2.0"/>
<line x1="6.00" y1="1539.69" x2="32.85" y2="1539.69" stroke="black" stroke-width="2.0"/>
<line x1="32.85" y1="1384.80" x2="32.85" y2="1531.01" stroke="#C0392B" stroke-width="1.7" stroke-linecap="square"/>
<line x1="1.4" y1="1462.25" x2="6.00" y2="1462.25" stroke="black" stroke-width="2.0"/>
</g>
<g font-family="Liberation Sans, sans-serif" font-size="4.0" font-weight="bold" fill="#000" stroke="#000" stroke-width="0.12" text-rendering="geometricPrecision">
<text x="306.4" y="4.9" textLength="57.0" lengthAdjust="spacingAndGlyphs">XP_018159083.1 Homo Danio T</text>
<text x="306.4" y="9.4" textLength="60.0" lengthAdjust="spacingAndGlyphs">XP_281948219.3 Gallus Latime</text>
<text x="306.4" y="13.9" textLength="56.0" lengthAdjust="spacingAndGlyphs">XP_231948757.2 Latimeria O</text>
<text x="306.4" y="18.3" textLength="60.3" lengthAdjust="spacingAndGlyphs">XP_559797114.2 Latimeria Ory</text>
<text x="306.4" y="22.8" textLength="59.0" lengthAdjust="spacingAndGlyphs">XP_034236671.1 Bos Mus Mus S</text>
<text x="306.4" y="27.3" textLength="59.7" lengthAdjust="spacingAndGlyphs">XP_952890786.2 Homo Danio Ho</text>
<text x="306.4" y="31.8" textLength="63.2" lengthAdjust="spacingAndGlyphs">XP_139624595.2 Latimeria Xenop</text>
<text x="306.4" y="36.3" textLength="56.3" lengthAdjust="spacingAndGlyphs">XP_728038528.1 Oryzias Rat</text>
<text x="306.4" y="40.7" textLength="59.2" lengthAdjust="spacingAndGlyphs">XP_336338750.1 Latimeria Gal</text>
<text x="306.4" y="45.2" textLength="65.2" lengthAdjust="spacingAndGlyphs">XP_799075116.3 Oryzias Takifug</text>
<text x="306.4" y="49.7" textLength="57.9" lengthAdjust="spacingAndGlyphs">XP_222029729.3 Danio Xenopu</text>
<text x="306.4" y="54.2" textLength="56.3" lengthAdjust="spacingAndGlyphs">XP_348395486.1 Salmo Latim</text>
<text x="306.4" y="58.7" textLength="58.9" lengthAdjust="spacingAndGlyphs">XP_222791805.3 Gallus Latime</text>
<text x="306.4" y="63.1" textLength="52.6" lengthAdjust="spacingAndGlyphs">XP_801759898.1 Anolis Tak</text>
<text x="306.4" y="67.6" textLength="56.5" lengthAdjust="spacingAndGlyphs">XP_361341252.2 Latimeria A</text>
<text x="306.4" y="72.1" textLength="58.6" lengthAdjust="spacingAndGlyphs">XP_656355150.2 Xenopus Dani</text>
<text x="306.4" y="76.6" textLength="60.1" lengthAdjust="spacingAndGlyphs">XP_264628897.3 Takifugu iauc</text>
<text x="306.4" y="81.1" textLength="56.6" lengthAdjust="spacingAndGlyphs">XP_419314170.2 Homo Rattus</text>
<text x="306.4" y="85.5" textLength="55.7" lengthAdjust="spacingAndGlyphs">XP_478245040.1 Anolis Lati</text>
<text x="306.4" y="90.0" textLength="64.4" lengthAdjust="spacingAndGlyphs">XP_868433532.2 Xenopus Xenopus</text>
<text x="306.4" y="94.5" textLength="53.0" lengthAdjust="spacingAndGlyphs">XP_072247045.2 Oryzias An</text>
<text x="306.4" y="99.0" textLength="54.4" lengthAdjust="spacingAndGlyphs">XP_014126906.1 juhcsq vwz</text>
<text x="306.4" y="103.4" textLength="52.7" lengthAdjust="spacingAndGlyphs">XP_249208682.3 Bos Latime</text>
<text x="306.4" y="107.9" textLength="68.3" lengthAdjust="spacingAndGlyphs">XP_800837407.1 Xenopus Gallus Ho</text>
<text x="306.4" y="112.4" textLength="52.0" lengthAdjust="spacingAndGlyphs">XP_093192544.3 Bos Xenop</text>
<text x="306.4" y="116.9" textLength="58.8" lengthAdjust="spacingAndGlyphs">XP_777183417.1 Gallus Anoli</text>
<text x="306.4" y="121.4" textLength="57.7" lengthAdjust="spacingAndGlyphs">XP_984153776.1 Xenopus enlm</text>
<text x="360.1" y="125.8" textLength="61.8" lengthAdjust="spacingAndGlyphs">XP_561304451.2 Xenopus Mus in</text>
<text x="360.1" y="130.3" textLength="51.0" lengthAdjust="spacingAndGlyphs">XP_068831067.3 Mus Xenop</text>
<text x="360.1" y="134.8" textLength="65.1" lengthAdjust="spacingAndGlyphs">XP_463478612.3 Anolis Mus Gall</text>
<text x="360.1" y="139.3" textLength="53.1" lengthAdjust="spacingAndGlyphs">XP_306668364.2 Mus Takifu</text>
<text x="360.1" y="143.8" textLength="63.4" lengthAdjust="spacingAndGlyphs">XP_764020679.2 Latimeria Anoli</text>
<text x="360.1" y="148.2" textLength="59.9" lengthAdjust="spacingAndGlyphs">XP_718002390.3 Homo Gallus X</text>
<text x="333.2" y="152.7" textLength="57.7" lengthAdjust="spacingAndGlyphs">XP_745378383.1 Rattus Danio</text>
<text x="306.4" y="157.2" textLength="55.9" lengthAdjust="spacingAndGlyphs">XP_563048137.1 yghohi Lati</text>
<text x="360.1" y="161.7" textLength="52.0" lengthAdjust="spacingAndGlyphs">XP_609260309.1 Oryzias L</text>
<text x="360.1" y="166.2" textLength="63.8" lengthAdjust="spacingAndGlyphs">XP_655721014.1 Oryzias Gallus </text>
<text x="333.2" y="170.6" textLength="59.2" lengthAdjust="spacingAndGlyphs">XP_063606071.1 Xenopus Oryzi</text>
<text x="333.2" y="175.1" textLength="61.0" lengthAdjust="spacingAndGlyphs">XP_910317764.2 Bos Oryzias H</text>
<text x="333.2" y="179.6" textLength="56.5" lengthAdjust="spacingAndGlyphs">XP_078852611.2 Gallus Bos </text>
<text x="333.2" y="184.1" textLength="57.7" lengthAdjust="spacingAndGlyphs">XP_437323324.3 Anolis Danio</text>
<text x="333.2" y="188.6" textLength="61.0" lengthAdjust="spacingAndGlyphs">XP_737504310.1 Xenopus Oryzia</text>
<text x="333.2" y="193.0" textLength="57.4" lengthAdjust="spacingAndGlyphs">XP_409305652.3 Latimeria Ra</text>
<text x="333.2" y="197.5" textLength="59.0" lengthAdjust="spacingAndGlyphs">XP_828126464.3 Takifugu Bos </text>
<text x="333.2" y="202.0" textLength="54.6" lengthAdjust="spacingAndGlyphs">XP_220082619.3 Mus fcdmpyz</text>
<text x="333.2" y="206.5" textLength="56.2" lengthAdjust="spacingAndGlyphs">XP_342075096.1 Gallus Taki</text>
<text x="306.4" y="211.0" textLength="56.6" lengthAdjust="spacingAndGlyphs">XP_308051697.3 Rattus Salm</text>
<text x="333.2" y="215.4" textLength="59.8" lengthAdjust="spacingAndGlyphs">XP_773797276.1 Homo Homo Rat</text>
<text x="333.2" y="219.9" textLength="60.1" lengthAdjust="spacingAndGlyphs">XP_191327423.1 Xenopus Salmo</text>
<text x="333.2" y="224.4" textLength="57.3" lengthAdjust="spacingAndGlyphs">XP_835503262.3 Xenopus Oryz</text>
<text x="333.2" y="228.9" textLength="62.3" lengthAdjust="spacingAndGlyphs">XP_891486546.2 Salmo Bos Xeno</text>
<text x="333.2" y="233.4" textLength="57.1" lengthAdjust="spacingAndGlyphs">XP_966850273.3 Oryzias Salm</text>
<text x="333.2" y="237.8" textLength="59.1" lengthAdjust="spacingAndGlyphs">XP_032711246.2 Salmo Danio G</text>
<text x="306.4" y="242.3" textLength="55.9" lengthAdjust="spacingAndGlyphs">XP_201098326.1 Anolis Lati</text>
<text x="386.9" y="246.8" textLength="57.9" lengthAdjust="spacingAndGlyphs">XP_671723143.3 Xenopus Xeno</text>
<text x="386.9" y="251.3" textLength="57.6" lengthAdjust="spacingAndGlyphs">XP_431802433.1 Rattus Gallu</text>
<text x="360.1" y="255.8" textLength="54.9" lengthAdjust="spacingAndGlyphs">XP_369919220.1 Mus Homo bc</text>
<text x="333.2" y="260.2" textLength="56.5" lengthAdjust="spacingAndGlyphs">XP_613331001.3 Xenopus Xen</text>
<text x="333.2" y="264.7" textLength="64.4" lengthAdjust="spacingAndGlyphs">XP_598749060.2 Gallus csjfnaqg</text>
<text x="333.2" y="269.2" textLength="60.0" lengthAdjust="spacingAndGlyphs">XP_005717279.2 Mus uycp Bos </text>
<text x="333.2" y="273.7" textLength="56.6" lengthAdjust="spacingAndGlyphs">XP_882637289.3 Rattus Salm</text>
<text x="360.1" y="278.1" textLength="62.0" lengthAdjust="spacingAndGlyphs">XP_325738344.3 Oryzias Homo M</text>
<text x="386.9" y="282.6" textLength="59.8" lengthAdjust="spacingAndGlyphs">XP_643114367.1 Gallus Takifu</text>
<text x="386.9" y="287.1" textLength="51.8" lengthAdjust="spacingAndGlyphs">XP_036996393.3 Xenopus M</text>
<text x="386.9" y="291.6" textLength="58.0" lengthAdjust="spacingAndGlyphs">XP_709682506.2 Mus Bos Taki</text>
<text x="386.9" y="296.1" textLength="62.2" lengthAdjust="spacingAndGlyphs">XP_732681950.2 Takifugu Takif</text>
<text x="306.4" y="300.5" textLength="62.6" lengthAdjust="spacingAndGlyphs">XP_367322137.3 Latimeria Oryz</text>
<text x="306.4" y="305.0" textLength="56.2" lengthAdjust="spacingAndGlyphs">XP_346462704.2 Takifugu Ho</text>
<text x="333.2" y="309.5" textLength="62.1" lengthAdjust="spacingAndGlyphs">XP_285900314.2 dsehfyol Salmo</text>
<text x="360.1" y="314.0" textLength="50.3" lengthAdjust="spacingAndGlyphs">XP_918437381.3 Mus Latim</text>
<text x="386.9" y="318.5" textLength="58.1" lengthAdjust="spacingAndGlyphs">XP_902579747.2 Rattus Bos M</text>
<text x="386.9" y="322.9" textLength="60.4" lengthAdjust="spacingAndGlyphs">XP_036251557.3 Danio Xenopus</text>
<text x="306.4" y="327.4" textLength="60.6" lengthAdjust="spacingAndGlyphs">XP_371535429.3 Anolis Danio </text>
<text x="333.2" y="331.9" textLength="55.4" lengthAdjust="spacingAndGlyphs">XP_889692913.1 Takifugu ua</text>
<text x="333.2" y="336.4" textLength="55.7" lengthAdjust="spacingAndGlyphs">XP_426050699.1 Salmo Mus G</text>
<text x="279.5" y="340.9" textLength="63.9" lengthAdjust="spacingAndGlyphs">XP_206001131.1 Bos Bos Anolis </text>
<text x="440.6" y="345.3" textLength="62.5" lengthAdjust="spacingAndGlyphs">XP_916449279.1 Mus Rattus pmy</text>
<text x="440.6" y="349.8" textLength="53.9" lengthAdjust="spacingAndGlyphs">XP_954409959.3 Takifugu m</text>
<text x="413.8" y="354.3" textLength="63.8" lengthAdjust="spacingAndGlyphs">XP_405446290.2 zseiz Latimeria</text>
<text x="386.9" y="358.8" textLength="53.6" lengthAdjust="spacingAndGlyphs">XP_633490673.2 yazmorcr X</text>
<text x="360.1" y="363.3" textLength="61.6" lengthAdjust="spacingAndGlyphs">XP_789333312.3 Anolis Oryzias</text>
<text x="333.2" y="367.7" textLength="54.8" lengthAdjust="spacingAndGlyphs">XP_712590548.3 Latimeria s</text>
<text x="440.6" y="372.2" textLength="53.4" lengthAdjust="spacingAndGlyphs">XP_240532610.1 Latimeria </text>
<text x="440.6" y="376.7" textLength="55.0" lengthAdjust="spacingAndGlyphs">XP_145931862.2 Danio lbrab</text>
<text x="413.8" y="381.2" textLength="51.5" lengthAdjust="spacingAndGlyphs">XP_701250349.3 Takifugu </text>
<text x="386.9" y="385.7" textLength="57.5" lengthAdjust="spacingAndGlyphs">XP_320730231.3 Danio Mus An</text>
<text x="360.1" y="390.1" textLength="61.3" lengthAdjust="spacingAndGlyphs">XP_246632049.2 Latimeria Gall</text>
<text x="360.1" y="394.6" textLength="55.2" lengthAdjust="spacingAndGlyphs">XP_874143564.1 Danio Mus D</text>
<text x="386.9" y="399.1" textLength="60.4" lengthAdjust="spacingAndGlyphs">XP_922283239.1 Xenopus Rattu</text>
<text x="386.9" y="403.6" textLength="56.5" lengthAdjust="spacingAndGlyphs">XP_394301860.3 Takifugu Da</text>
<text x="386.9" y="408.1" textLength="60.0" lengthAdjust="spacingAndGlyphs">XP_905878115.3 kywms Latimer</text>
<text x="386.9" y="412.5" textLength="61.3" lengthAdjust="spacingAndGlyphs">XP_808820313.3 Danio Xenopus </text>
<text x="386.9" y="417.0" textLength="58.3" lengthAdjust="spacingAndGlyphs">XP_512041779.3 Salmo Bos Sa</text>
<text x="386.9" y="421.5" textLength="62.3" lengthAdjust="spacingAndGlyphs">XP_806055635.3 Anolis Rattus </text>
<text x="386.9" y="426.0" textLength="56.8" lengthAdjust="spacingAndGlyphs">XP_032667000.3 Salmo Takifu</text>
<text x="386.9" y="430.5" textLength="60.4" lengthAdjust="spacingAndGlyphs">XP_304145210.3 Anolis Gallus</text>
<text x="386.9" y="434.9" textLength="57.4" lengthAdjust="spacingAndGlyphs">XP_479936385.2 Gallus Danio</text>
<text x="386.9" y="439.4" textLength="51.5" lengthAdjust="spacingAndGlyphs">XP_523585744.1 Salmo Ory</text>
<text x="386.9" y="443.9" textLength="57.8" lengthAdjust="spacingAndGlyphs">XP_326552399.2 Bos Homo Sal</text>
<text x="386.9" y="448.4" textLength="56.1" lengthAdjust="spacingAndGlyphs">XP_167745456.3 Takifugu Sa</text>
<text x="413.8" y="452.8" textLength="55.9" lengthAdjust="spacingAndGlyphs">XP_559353600.1 Anolis Oryz</text>
<text x="413.8" y="457.3" textLength="60.0" lengthAdjust="spacingAndGlyphs">XP_095701831.2 Gallus Bos An</text>
<text x="440.6" y="461.8" textLength="60.6" lengthAdjust="spacingAndGlyphs">XP_458628483.3 Salmo Bos Dan</text>
<text x="467.5" y="466.3" textLength="63.2" lengthAdjust="spacingAndGlyphs">XP_480461900.1 Rattus Mus Lati</text>
<text x="467.5" y="470.8" textLength="60.4" lengthAdjust="spacingAndGlyphs">XP_009523542.1 Latimeria Lat</text>
<text x="440.6" y="475.2" textLength="53.1" lengthAdjust="spacingAndGlyphs">XP_093330292.2 Xenopus Ga</text>
<text x="440.6" y="479.7" textLength="54.5" lengthAdjust="spacingAndGlyphs">XP_703122562.1 Takifugu A</text>
<text x="440.6" y="484.2" textLength="60.1" lengthAdjust="spacingAndGlyphs">XP_363745360.2 Xenopus Mus S</text>
<text x="467.5" y="488.7" textLength="60.6" lengthAdjust="spacingAndGlyphs">XP_833724979.2 Rattus Rattus</text>
<text x="467.5" y="493.2" textLength="67.5" lengthAdjust="spacingAndGlyphs">XP_924061235.1 Homo Takifugu Ory</text>
<text x="467.5" y="497.6" textLength="55.5" lengthAdjust="spacingAndGlyphs">XP_560736512.2 Bos Mus Sal</text>
<text x="467.5" y="502.1" textLength="52.7" lengthAdjust="spacingAndGlyphs">XP_397846950.1 Danio Bos </text>
<text x="467.5" y="506.6" textLength="63.6" lengthAdjust="spacingAndGlyphs">XP_780368273.1 Anolis Homo Bos</text>
<text x="467.5" y="511.1" textLength="55.4" lengthAdjust="spacingAndGlyphs">XP_773308725.3 Oryzias Lat</text>
<text x="467.5" y="515.6" textLength="60.2" lengthAdjust="spacingAndGlyphs">XP_314057300.2 Mus Anolis La</text>
<text x="467.5" y="520.0" textLength="54.5" lengthAdjust="spacingAndGlyphs">XP_159417673.3 Salmo Dani</text>
<text x="467.5" y="524.5" textLength="59.2" lengthAdjust="spacingAndGlyphs">XP_452821495.2 Mus Rattus Sa</text>
<text x="467.5" y="529.0" textLength="50.4" lengthAdjust="spacingAndGlyphs">XP_912322761.1 Salmo Tak</text>
<text x="467.5" y="533.5" textLength="59.1" lengthAdjust="spacingAndGlyphs">XP_022640795.3 Latimeria rue</text>
<text x="467.5" y="538.0" textLength="57.1" lengthAdjust="spacingAndGlyphs">XP_059499657.3 Bos Salmo Ho</text>
<text x="467.5" y="542.4" textLength="59.5" lengthAdjust="spacingAndGlyphs">XP_381341384.3 Homo Mus Homo</text>
<text x="467.5" y="546.9" textLength="68.4" lengthAdjust="spacingAndGlyphs">XP_768239712.2 Salmo Takifugu Bo</text>
<text x="467.5" y="551.4" textLength="59.7" lengthAdjust="spacingAndGlyphs">XP_504135885.3 btldlrk Latim</text>
<text x="467.5" y="555.9" textLength="56.2" lengthAdjust="spacingAndGlyphs">XP_097107114.1 Mus Danio D</text>
<text x="306.4" y="560.4" textLength="63.0" lengthAdjust="spacingAndGlyphs">XP_967276398.1 Salmo Latimeri</text>
<text x="333.2" y="564.8" textLength="60.5" lengthAdjust="spacingAndGlyphs">XP_597655059.2 Rattus Xenopu</text>
<text x="360.1" y="569.3" textLength="69.4" lengthAdjust="spacingAndGlyphs">XP_599892081.1 usudlzj zevcj Ano</text>
<text x="386.9" y="573.8" textLength="62.8" lengthAdjust="spacingAndGlyphs">XP_650557853.1 Takifugu Mus R</text>
<text x="386.9" y="578.3" textLength="61.4" lengthAdjust="spacingAndGlyphs">XP_391924957.2 Danio Gallus X</text>
<text x="279.5" y="582.8" textLength="56.6" lengthAdjust="spacingAndGlyphs">XP_813302901.1 Danio Takif</text>
<text x="306.4" y="587.2" textLength="52.5" lengthAdjust="spacingAndGlyphs">XP_206019579.2 Oryzias Or</text>
<text x="333.2" y="591.7" textLength="53.4" lengthAdjust="spacingAndGlyphs">XP_210232815.2 Salmo Dani</text>
<text x="333.2" y="596.2" textLength="58.6" lengthAdjust="spacingAndGlyphs">XP_878458842.2 rpdu Danio M</text>
<text x="225.8" y="600.7" textLength="105.0" lengthAdjust="spacingAndGlyphs">XP_495222805.3 opgul Bos Rattus Rattus Oryzias Xe</text>
<text x="199.0" y="605.2" textLength="107.0" lengthAdjust="spacingAndGlyphs">XP_739274244.1 Salmo Danio Homo Bos Homo Salmo Dan</text>
<text x="199.0" y="609.6" textLength="59.0" lengthAdjust="spacingAndGlyphs">XP_289396100.2 Anolis Bos Ga</text>
<text x="225.8" y="614.1" textLength="61.0" lengthAdjust="spacingAndGlyphs">XP_142044103.3 Xenopus Latime</text>
<text x="413.8" y="618.6" textLength="54.6" lengthAdjust="spacingAndGlyphs">XP_848564665.3 Mus Gallus </text>
<text x="413.8" y="623.1" textLength="59.1" lengthAdjust="spacingAndGlyphs">XP_857857907.3 Bos Rattus Xe</text>
<text x="386.9" y="627.6" textLength="57.3" lengthAdjust="spacingAndGlyphs">XP_475897932.1 Mus Danio Bo</text>
<text x="360.1" y="632.0" textLength="58.0" lengthAdjust="spacingAndGlyphs">XP_588471464.2 Mus Anolis A</text>
<text x="333.2" y="636.5" textLength="59.9" lengthAdjust="spacingAndGlyphs">XP_309409248.2 Rattus cgenzj</text>
<text x="333.2" y="641.0" textLength="57.2" lengthAdjust="spacingAndGlyphs">XP_765046694.2 Bos Latimeri</text>
<text x="360.1" y="645.5" textLength="58.9" lengthAdjust="spacingAndGlyphs">XP_668670199.2 Takifugu Gall</text>
<text x="360.1" y="649.9" textLength="57.1" lengthAdjust="spacingAndGlyphs">XP_485671131.3 Gallus Anoli</text>
<text x="306.4" y="654.4" textLength="58.7" lengthAdjust="spacingAndGlyphs">XP_692602553.3 Xenopus Xeno</text>
<text x="333.2" y="658.9" textLength="53.5" lengthAdjust="spacingAndGlyphs">XP_604436684.2 Oryzias Or</text>
<text x="360.1" y="663.4" textLength="56.4" lengthAdjust="spacingAndGlyphs">XP_378050816.3 Gallus Gall</text>
<text x="360.1" y="667.9" textLength="62.0" lengthAdjust="spacingAndGlyphs">XP_102197208.3 Bos Bos qdodg </text>
<text x="252.7" y="672.3" textLength="59.5" lengthAdjust="spacingAndGlyphs">XP_762020274.1 Oryzias Takif</text>
<text x="306.4" y="676.8" textLength="59.8" lengthAdjust="spacingAndGlyphs">XP_813722656.1 Rattus Latime</text>
<text x="306.4" y="681.3" textLength="60.8" lengthAdjust="spacingAndGlyphs">XP_137449981.1 Salmo Gallus </text>
<text x="386.9" y="685.8" textLength="55.1" lengthAdjust="spacingAndGlyphs">XP_521418718.1 Danio Oryzi</text>
<text x="386.9" y="690.3" textLength="58.9" lengthAdjust="spacingAndGlyphs">XP_152521507.2 Mus Mus Anoli</text>
<text x="386.9" y="694.7" textLength="58.6" lengthAdjust="spacingAndGlyphs">XP_388310107.3 Xenopus Homo</text>
<text x="386.9" y="699.2" textLength="60.0" lengthAdjust="spacingAndGlyphs">XP_491193339.3 bhctkdbgt Dan</text>
<text x="386.9" y="703.7" textLength="54.2" lengthAdjust="spacingAndGlyphs">XP_601328225.1 Homo Anoli</text>
<text x="360.1" y="708.2" textLength="66.4" lengthAdjust="spacingAndGlyphs">XP_519130561.3 Mus wjbxoz Salmo</text>
<text x="333.2" y="712.7" textLength="48.5" lengthAdjust="spacingAndGlyphs">XP_114333978.1 Takifugu</text>
<text x="306.4" y="717.1" textLength="56.1" lengthAdjust="spacingAndGlyphs">XP_566135964.1 Takifugu Ho</text>
<text x="333.2" y="721.6" textLength="53.3" lengthAdjust="spacingAndGlyphs">XP_904514276.3 Mus Salmo </text>
<text x="333.2" y="726.1" textLength="64.1" lengthAdjust="spacingAndGlyphs">XP_680021379.3 xlvdrx Anolis R</text>
<text x="279.5" y="730.6" textLength="54.3" lengthAdjust="spacingAndGlyphs">XP_077500186.2 Latimeria </text>
<text x="279.5" y="735.1" textLength="49.3" lengthAdjust="spacingAndGlyphs">XP_239980629.3 Danio Ta</text>
<text x="279.5" y="739.5" textLength="47.2" lengthAdjust="spacingAndGlyphs">XP_545297085.1 Bos Ory</text>
<text x="306.4" y="744.0" textLength="58.5" lengthAdjust="spacingAndGlyphs">XP_244739576.1 Gallus Mus T</text>
<text x="333.2" y="748.5" textLength="58.1" lengthAdjust="spacingAndGlyphs">XP_568414700.3 Homo Mus Ory</text>
<text x="333.2" y="753.0" textLength="54.8" lengthAdjust="spacingAndGlyphs">XP_667552288.2 Danio Xenop</text>
<text x="360.1" y="757.5" textLength="59.3" lengthAdjust="spacingAndGlyphs">XP_223381406.2 Xenopus Xenop</text>
<text x="360.1" y="761.9" textLength="52.1" lengthAdjust="spacingAndGlyphs">XP_159150811.2 Latimeria</text>
<text x="333.2" y="766.4" textLength="57.8" lengthAdjust="spacingAndGlyphs">XP_798900871.2 Salmo grzgj </text>
<text x="306.4" y="770.9" textLength="59.4" lengthAdjust="spacingAndGlyphs">XP_465141916.2 Oryzias Bos X</text>
<text x="306.4" y="775.4" textLength="58.1" lengthAdjust="spacingAndGlyphs">XP_807334384.3 Danio Rattus</text>
<text x="333.2" y="779.9" textLength="56.4" lengthAdjust="spacingAndGlyphs">XP_848529554.1 Takifugu Ho</text>
<text x="360.1" y="784.3" textLength="53.6" lengthAdjust="spacingAndGlyphs">XP_577155721.3 Gallus Tak</text>
<text x="360.1" y="788.8" textLength="64.6" lengthAdjust="spacingAndGlyphs">XP_220139860.1 Salmo Rattus Ho</text>
<text x="360.1" y="793.3" textLength="64.7" lengthAdjust="spacingAndGlyphs">XP_377997190.2 Bos Homo Rattus</text>
<text x="360.1" y="797.8" textLength="62.7" lengthAdjust="spacingAndGlyphs">XP_031300706.1 Salmo Homo Hom</text>
<text x="145.2" y="802.3" textLength="48.0" lengthAdjust="spacingAndGlyphs">XP_601081889.3 Salmo G</text>
<text x="172.1" y="806.7" textLength="60.0" lengthAdjust="spacingAndGlyphs" fill-opacity="0.6" stroke-opacity="0.6">XP_028731361.3 Homo Oryzias </text>
<text x="172.1" y="811.2" textLength="97.0" lengthAdjust="spacingAndGlyphs" fill-opacity="0.6" stroke-opacity="0.6">XP_953011019.1 Bos Danio Xenopus Mus fuupyty </text>
<text x="172.1" y="815.7" textLength="57.4" lengthAdjust="spacingAndGlyphs">XP_538550351.3 Oryzias Anol</text>
<text x="199.0" y="820.2" textLength="63.6" lengthAdjust="spacingAndGlyphs">XP_368133404.2 Xenopus Rattus </text>
<text x="199.0" y="824.6" textLength="59.9" lengthAdjust="spacingAndGlyphs">XP_191641118.1 Homo Xenopus </text>
<text x="225.8" y="829.1" textLength="63.7" lengthAdjust="spacingAndGlyphs">XP_755306313.2 Rattus Danio Ho</text>
<text x="225.8" y="833.6" textLength="52.5" lengthAdjust="spacingAndGlyphs">XP_404255822.2 Mus Gallus</text>
<text x="199.0" y="838.1" textLength="63.1" lengthAdjust="spacingAndGlyphs">XP_537400165.1 Latimeria Gallu</text>
<text x="199.0" y="842.6" textLength="53.6" lengthAdjust="spacingAndGlyphs">XP_670131457.2 Gallus Tak</text>
<text x="225.8" y="847.0" textLength="55.1" lengthAdjust="spacingAndGlyphs">XP_285311747.2 Rattus Mus </text>
<text x="252.7" y="851.5" textLength="57.5" lengthAdjust="spacingAndGlyphs">XP_083792526.2 Latimeria Bo</text>
<text x="252.7" y="856.0" textLength="57.0" lengthAdjust="spacingAndGlyphs">XP_160205731.2 Gallus Xenop</text>
<text x="199.0" y="860.5" textLength="60.5" lengthAdjust="spacingAndGlyphs">XP_350625609.2 Xenopus Gallu</text>
<text x="199.0" y="865.0" textLength="55.0" lengthAdjust="spacingAndGlyphs">XP_622829502.1 Salmo Homo </text>
<text x="199.0" y="869.4" textLength="56.8" lengthAdjust="spacingAndGlyphs">XP_261864891.2 pvqsv Xenopu</text>
<text x="199.0" y="873.9" textLength="55.7" lengthAdjust="spacingAndGlyphs">XP_436584109.3 Oryzias Hom</text>
<text x="199.0" y="878.4" textLength="56.9" lengthAdjust="spacingAndGlyphs">XP_386623556.3 Homo Takifug</text>
<text x="199.0" y="882.9" textLength="55.3" lengthAdjust="spacingAndGlyphs">XP_759855652.2 avvyfmldu S</text>
<text x="199.0" y="887.4" textLength="54.4" lengthAdjust="spacingAndGlyphs">XP_354421979.1 Anolis Bos</text>
<text x="199.0" y="891.8" textLength="58.0" lengthAdjust="spacingAndGlyphs">XP_243001113.1 Bos Homo Mus</text>
<text x="225.8" y="896.3" textLength="60.5" lengthAdjust="spacingAndGlyphs">XP_558723980.1 nmjwahjzc Lat</text>
<text x="225.8" y="900.8" textLength="60.4" lengthAdjust="spacingAndGlyphs">XP_391796203.3 Xenopus Bos R</text>
<text x="199.0" y="905.3" textLength="51.3" lengthAdjust="spacingAndGlyphs">XP_793234422.1 Rattus zz</text>
<text x="199.0" y="909.8" textLength="56.7" lengthAdjust="spacingAndGlyphs">XP_058322370.1 Rattus Taki</text>
<text x="225.8" y="914.2" textLength="56.9" lengthAdjust="spacingAndGlyphs">XP_671483757.3 Oryzias Dani</text>
<text x="225.8" y="918.7" textLength="64.0" lengthAdjust="spacingAndGlyphs">XP_821790415.2 Danio Homo Mus </text>
<text x="199.0" y="923.2" textLength="50.5" lengthAdjust="spacingAndGlyphs">XP_781146732.3 yomwgx Or</text>
<text x="199.0" y="927.7" textLength="58.3" lengthAdjust="spacingAndGlyphs">XP_872955253.3 bahslaz Xeno</text>
<text x="225.8" y="932.2" textLength="57.1" lengthAdjust="spacingAndGlyphs">XP_545956641.1 vnyu Mus Xen</text>
<text x="225.8" y="936.6" textLength="61.3" lengthAdjust="spacingAndGlyphs">XP_505252808.2 Bos Danio Homo</text>
<text x="225.8" y="941.1" textLength="61.7" lengthAdjust="spacingAndGlyphs">XP_703764764.3 Homo Gallus Bo</text>
<text x="199.0" y="945.6" textLength="61.8" lengthAdjust="spacingAndGlyphs">XP_907996026.1 Oryzias hzxt M</text>
<text x="199.0" y="950.1" textLength="53.6" lengthAdjust="spacingAndGlyphs">XP_616354582.2 yqavetmr H</text>
<text x="199.0" y="954.6" textLength="60.6" lengthAdjust="spacingAndGlyphs">XP_038083872.3 Danio Takifug</text>
<text x="199.0" y="959.0" textLength="55.2" lengthAdjust="spacingAndGlyphs">XP_387010523.3 Gallus Gall</text>
<text x="199.0" y="963.5" textLength="56.9" lengthAdjust="spacingAndGlyphs">XP_807071186.1 Takifugu Xen</text>
<text x="225.8" y="968.0" textLength="65.6" lengthAdjust="spacingAndGlyphs">XP_237123951.3 Latimeria Mus Ho</text>
<text x="225.8" y="972.5" textLength="55.4" lengthAdjust="spacingAndGlyphs">XP_562798007.2 Anolis Taki</text>
<text x="225.8" y="977.0" textLength="61.3" lengthAdjust="spacingAndGlyphs">XP_599352886.3 Salmo Anolis O</text>
<text x="225.8" y="981.4" textLength="55.1" lengthAdjust="spacingAndGlyphs">XP_546999405.2 Danio Danio</text>
<text x="225.8" y="985.9" textLength="54.5" lengthAdjust="spacingAndGlyphs">XP_133022433.1 Anolis Dan</text>
<text x="199.0" y="990.4" textLength="57.9" lengthAdjust="spacingAndGlyphs">XP_661292401.1 Bos Rattus T</text>
<text x="199.0" y="994.9" textLength="50.1" lengthAdjust="spacingAndGlyphs">XP_473702222.2 Latimeri</text>
<text x="199.0" y="999.3" textLength="50.1" lengthAdjust="spacingAndGlyphs">XP_077095682.1 Rattus A</text>
<text x="199.0" y="1003.8" textLength="55.6" lengthAdjust="spacingAndGlyphs">XP_056396657.3 fkmgigzv Xe</text>
<text x="199.0" y="1008.3" textLength="59.1" lengthAdjust="spacingAndGlyphs">XP_987417026.1 Salmo Takifug</text>
<text x="199.0" y="1012.8" textLength="54.6" lengthAdjust="spacingAndGlyphs">XP_741751074.1 Oryzias Sa</text>
<text x="199.0" y="1017.3" textLength="56.0" lengthAdjust="spacingAndGlyphs">XP_475671024.1 Xenopus Gal</text>
<text x="199.0" y="1021.7" textLength="52.6" lengthAdjust="spacingAndGlyphs">XP_797145922.3 Oryzias Xe</text>
<text x="199.0" y="1026.2" textLength="57.9" lengthAdjust="spacingAndGlyphs">XP_294168973.1 Gallus Anoli</text>
<text x="199.0" y="1030.7" textLength="59.4" lengthAdjust="spacingAndGlyphs">XP_562277749.2 Oryzias Mus O</text>
<text x="199.0" y="1035.2" textLength="58.4" lengthAdjust="spacingAndGlyphs">XP_714759573.3 Gallus Anoli</text>
<text x="225.8" y="1039.7" textLength="54.5" lengthAdjust="spacingAndGlyphs">XP_131413904.1 Takifugu G</text>
<text x="252.7" y="1044.1" textLength="66.7" lengthAdjust="spacingAndGlyphs">XP_313149856.2 Mus Anolis Xenop</text>
<text x="252.7" y="1048.6" textLength="57.4" lengthAdjust="spacingAndGlyphs">XP_822222191.1 Takifugu Mus</text>
<text x="252.7" y="1053.1" textLength="58.6" lengthAdjust="spacingAndGlyphs">XP_353179665.2 Anolis Xenop</text>
<text x="252.7" y="1057.6" textLength="64.7" lengthAdjust="spacingAndGlyphs">XP_151516418.2 Oryzias Salmo B</text>
<text x="199.0" y="1062.1" textLength="61.1" lengthAdjust="spacingAndGlyphs">XP_048050183.3 Latimeria Gall</text>
<text x="225.8" y="1066.5" textLength="62.7" lengthAdjust="spacingAndGlyphs">XP_613618455.1 Takifugu Rattu</text>
<text x="225.8" y="1071.0" textLength="61.8" lengthAdjust="spacingAndGlyphs">XP_743179741.3 Rattus Danio S</text>
<text x="225.8" y="1075.5" textLength="60.8" lengthAdjust="spacingAndGlyphs">XP_452564277.1 Takifugu Homo</text>
<text x="225.8" y="1080.0" textLength="60.9" lengthAdjust="spacingAndGlyphs">XP_302051495.3 Anolis Oryzia</text>
<text x="225.8" y="1084.5" textLength="60.6" lengthAdjust="spacingAndGlyphs">XP_889394828.1 Xenopus yuwo </text>
<text x="252.7" y="1088.9" textLength="54.8" lengthAdjust="spacingAndGlyphs">XP_047537547.2 Gallus Xeno</text>
<text x="252.7" y="1093.4" textLength="57.1" lengthAdjust="spacingAndGlyphs">XP_504805560.2 Latimeria Mu</text>
<text x="252.7" y="1097.9" textLength="54.2" lengthAdjust="spacingAndGlyphs">XP_470256746.1 Xenopus Mu</text>
<text x="252.7" y="1102.4" textLength="58.3" lengthAdjust="spacingAndGlyphs">XP_066325811.2 Mus Oryzias </text>
<text x="252.7" y="1106.9" textLength="63.9" lengthAdjust="spacingAndGlyphs">XP_934133379.3 Salmo Gallus Ta</text>
<text x="225.8" y="1111.3" textLength="58.8" lengthAdjust="spacingAndGlyphs">XP_363593608.3 Danio Salmo </text>
<text x="225.8" y="1115.8" textLength="64.7" lengthAdjust="spacingAndGlyphs">XP_714730111.1 Bos Anolis Oryz</text>
<text x="199.0" y="1120.3" textLength="57.1" lengthAdjust="spacingAndGlyphs">XP_599894419.3 Mus Oryzias </text>
<text x="199.0" y="1124.8" textLength="54.3" lengthAdjust="spacingAndGlyphs">XP_432725006.1 Latimeria </text>
<text x="199.0" y="1129.3" textLength="57.3" lengthAdjust="spacingAndGlyphs">XP_248292854.3 Xenopus Salm</text>
<text x="252.7" y="1133.7" textLength="61.0" lengthAdjust="spacingAndGlyphs">XP_592577820.3 Salmo Danio Ga</text>
<text x="252.7" y="1138.2" textLength="52.8" lengthAdjust="spacingAndGlyphs">XP_559025511.1 Xenopus Da</text>
<text x="225.8" y="1142.7" textLength="57.7" lengthAdjust="spacingAndGlyphs">XP_187992687.2 Mus Latimeri</text>
<text x="199.0" y="1147.2" textLength="55.1" lengthAdjust="spacingAndGlyphs">XP_858709563.1 pxvmfq nfpq</text>
<text x="199.0" y="1151.7" textLength="63.5" lengthAdjust="spacingAndGlyphs">XP_359144517.2 ssgknza Salmo T</text>
<text x="199.0" y="1156.1" textLength="56.1" lengthAdjust="spacingAndGlyphs">XP_766312628.1 Homo Salmo </text>
<text x="199.0" y="1160.6" textLength="64.6" lengthAdjust="spacingAndGlyphs">XP_918634939.1 Xenopus Homo Ga</text>
<text x="199.0" y="1165.1" textLength="59.6" lengthAdjust="spacingAndGlyphs">XP_144147240.2 hlhzxnd Latim</text>
<text x="199.0" y="1169.6" textLength="55.7" lengthAdjust="spacingAndGlyphs">XP_335056686.1 Latimeria T</text>
<text x="199.0" y="1174.0" textLength="51.4" lengthAdjust="spacingAndGlyphs">XP_308379388.1 Danio Mus</text>
<text x="199.0" y="1178.5" textLength="61.0" lengthAdjust="spacingAndGlyphs">XP_326040675.3 Danio Homo Dan</text>
<text x="199.0" y="1183.0" textLength="55.0" lengthAdjust="spacingAndGlyphs">XP_529686118.2 Takifugu Ta</text>
<text x="91.6" y="1187.5" textLength="110.0" lengthAdjust="spacingAndGlyphs" fill-opacity="0.6" stroke-opacity="0.6">XP_884190743.1 Anolis Anolis Latimeria Homo Mus Hom</text>
<text x="118.4" y="1192.0" textLength="93.0" lengthAdjust="spacingAndGlyphs" fill-opacity="0.6" stroke-opacity="0.6">XP_183981246.2 Homo Homo Mus Xenopus Oryzia</text>
<text x="118.4" y="1196.4" textLength="93.0" lengthAdjust="spacingAndGlyphs" fill-opacity="0.6" stroke-opacity="0.6">XP_158844536.3 Salmo eruez Salmo Homo Rattu</text>
<text x="199.0" y="1200.9" textLength="72.0" lengthAdjust="spacingAndGlyphs" stroke-width="0.4">XP_860366635.3 Takifugu Anolis Ano</text>
<text x="199.0" y="1205.4" textLength="72.0" lengthAdjust="spacingAndGlyphs" stroke-width="0.4">XP_254775495.1 Latimeria Gallus Da</text>
<text x="172.1" y="1209.9" textLength="75.0" lengthAdjust="spacingAndGlyphs" stroke-width="0.4">XP_636707601.1 Takifugu Oryzias bdy</text>
<text x="145.2" y="1214.4" textLength="72.0" lengthAdjust="spacingAndGlyphs" stroke-width="0.4">XP_782628745.2 gcwsz Oryzias Danio</text>
<text x="199.0" y="1218.8" textLength="104.0" lengthAdjust="spacingAndGlyphs" stroke-width="0.4">XP_544468777.2 Bos Gallus Mus Latimeria Anolis Da</text>
<text x="199.0" y="1223.3" textLength="104.0" lengthAdjust="spacingAndGlyphs" stroke-width="0.4">XP_963547660.3 Oryzias Latimeria Rattus Takifugu </text>
<text x="172.1" y="1227.8" textLength="93.0" lengthAdjust="spacingAndGlyphs" stroke-width="0.4">XP_768901974.1 Oryzias Danio jrhsms Bos Dan</text>
<text x="172.1" y="1232.3" textLength="85.0" lengthAdjust="spacingAndGlyphs" stroke-width="0.4">XP_250302436.1 wwqtyktse Oryzias Xenopus</text>
<text x="199.0" y="1236.8" textLength="97.0" lengthAdjust="spacingAndGlyphs" stroke-width="0.4">XP_508470120.2 Mus Latimeria Gallus Mus Bos S</text>
<text x="199.0" y="1241.2" textLength="97.0" lengthAdjust="spacingAndGlyphs" stroke-width="0.4">XP_822952301.1 Xenopus Mus Rattus Rattus damk</text>
<text x="279.5" y="1245.7" textLength="86.5" lengthAdjust="spacingAndGlyphs" stroke-width="0.4">XP_785261464.2 Latimeria Salmo Anolis Or</text>
<text x="279.5" y="1250.2" textLength="98.6" lengthAdjust="spacingAndGlyphs" stroke-width="0.4">XP_618162468.1 Latimeria Bos Gallus yaonxgw Or</text>
<text x="279.5" y="1254.7" textLength="76.4" lengthAdjust="spacingAndGlyphs" stroke-width="0.4">XP_765613148.1 Rattus Takifugu Danio</text>
<text x="279.5" y="1259.2" textLength="85.3" lengthAdjust="spacingAndGlyphs" stroke-width="0.4">XP_798302054.1 Anolis Gallus Anolis Lati</text>
<text x="252.7" y="1263.6" textLength="86.0" lengthAdjust="spacingAndGlyphs" stroke-width="0.4">XP_645734272.1 Rattus Xenopus Salmo Ratt</text>
<text x="252.7" y="1268.1" textLength="112.7" lengthAdjust="spacingAndGlyphs" stroke-width="0.4">XP_547393435.3 slwmcas Rattus Gallus Danio ijvwyeuyo </text>
<text x="225.8" y="1272.6" textLength="105.0" lengthAdjust="spacingAndGlyphs" stroke-width="0.4">XP_014539226.3 Xenopus Xenopus Oryzias Xenopus An</text>
<text x="225.8" y="1277.1" textLength="94.2" lengthAdjust="spacingAndGlyphs" stroke-width="0.4">XP_423515518.1 Anolis Anolis Xenopus Anolis </text>
<text x="252.7" y="1281.6" textLength="92.6" lengthAdjust="spacingAndGlyphs" stroke-width="0.4">XP_368730501.2 dpeqqf dqtemejgs Gallus Anol</text>
<text x="279.5" y="1286.0" textLength="97.5" lengthAdjust="spacingAndGlyphs" stroke-width="0.4">XP_173915213.3 Danio Xenopus Homo Bos Bos Lati</text>
<text x="306.4" y="1290.5" textLength="82.5" lengthAdjust="spacingAndGlyphs" stroke-width="0.4">XP_440694804.1 Rattus Bos Bos mwep Anol</text>
<text x="306.4" y="1295.0" textLength="100.1" lengthAdjust="spacingAndGlyphs" stroke-width="0.4">XP_644131759.1 Oryzias Mus Bos Anolis toypfblrg</text>
<text x="199.0" y="1299.5" textLength="84.1" lengthAdjust="spacingAndGlyphs" stroke-width="0.4">XP_371158898.1 Takifugu Gallus Xenopus </text>
<text x="225.8" y="1304.0" textLength="113.7" lengthAdjust="spacingAndGlyphs" stroke-width="0.4">XP_291503902.1 Xenopus zpomdhfzz Latimeria Bos Homo S</text>
<text x="252.7" y="1308.4" textLength="96.2" lengthAdjust="spacingAndGlyphs" stroke-width="0.4">XP_951792851.2 Oryzias Gallus Xenopus Mus Sal</text>
<text x="279.5" y="1312.9" textLength="104.1" lengthAdjust="spacingAndGlyphs" stroke-width="0.4">XP_372352646.2 Mus Bos Oryzias Homo Oryzias hjizl</text>
<text x="279.5" y="1317.4" textLength="110.6" lengthAdjust="spacingAndGlyphs" stroke-width="0.4">XP_919002948.1 Latimeria Takifugu ylzrjwdxg Homo Ory</text>
<text x="199.0" y="1321.9" textLength="100.5" lengthAdjust="spacingAndGlyphs" stroke-width="0.4">XP_926543288.2 Gallus Takifugu Mus Mus jwdqvf M</text>
<text x="199.0" y="1326.4" textLength="84.7" lengthAdjust="spacingAndGlyphs" stroke-width="0.4">XP_224628583.2 Latimeria Salmo Danio Ory</text>
<text x="172.1" y="1330.8" textLength="98.4" lengthAdjust="spacingAndGlyphs" stroke-width="0.4">XP_024155527.2 Oryzias Takifugu Homo Danio Ano</text>
<text x="199.0" y="1335.3" textLength="104.3" lengthAdjust="spacingAndGlyphs" stroke-width="0.4">XP_812312790.1 haxh Anolis Oryzias Oryzias evtoes</text>
<text x="199.0" y="1339.8" textLength="115.1" lengthAdjust="spacingAndGlyphs" stroke-width="0.4">XP_850788205.2 Homo Xenopus Anolis Homo Gallus Xenopus</text>
<text x="252.7" y="1344.3" textLength="106.5" lengthAdjust="spacingAndGlyphs" stroke-width="0.4">XP_486949277.2 Mus Salmo dkasllmt Xenopus Latimeri</text>
<text x="252.7" y="1348.8" textLength="99.3" lengthAdjust="spacingAndGlyphs" stroke-width="0.4">XP_853810536.3 Xenopus Xenopus Xenopus Gallus </text>
<text x="306.4" y="1353.2" textLength="91.9" lengthAdjust="spacingAndGlyphs" stroke-width="0.4">XP_217732848.2 Homo Mus Gallus Mus Bos Oryz</text>
<text x="306.4" y="1357.7" textLength="86.3" lengthAdjust="spacingAndGlyphs" stroke-width="0.4">XP_500643391.2 Gallus Takifugu Mus Rattu</text>
<text x="306.4" y="1362.2" textLength="87.3" lengthAdjust="spacingAndGlyphs" stroke-width="0.4">XP_711352196.2 Latimeria Oryzias Latimeri</text>
<text x="306.4" y="1366.7" textLength="87.1" lengthAdjust="spacingAndGlyphs" stroke-width="0.4">XP_687682335.2 Mus Anolis Oryzias Xenopus</text>
<text x="413.8" y="1371.1" textLength="101.4" lengthAdjust="spacingAndGlyphs" stroke-width="0.4">XP_358004091.1 Bos Rattus Xenopus lacyco Bos Ta</text>
<text x="413.8" y="1375.6" textLength="115.6" lengthAdjust="spacingAndGlyphs" stroke-width="0.4">XP_188363159.1 qnwyzssfq Oryzias Gallus Latimeria Salm</text>
<text x="413.8" y="1380.1" textLength="91.7" lengthAdjust="spacingAndGlyphs" stroke-width="0.4">XP_148170190.1 Gallus Oryzias Anolis Salmo </text>
<text x="413.8" y="1384.6" textLength="97.9" lengthAdjust="spacingAndGlyphs" stroke-width="0.4">XP_211320272.1 Gallus Mus Latimeria Mus Danio </text>
<text x="386.9" y="1389.1" textLength="87.9" lengthAdjust="spacingAndGlyphs" stroke-width="0.4">XP_103941127.2 Gallus Xenopus Mus euvueq </text>
<text x="360.1" y="1393.5" textLength="88.3" lengthAdjust="spacingAndGlyphs" stroke-width="0.4">XP_175513198.1 Salmo Salmo Anolis Danio L</text>
<text x="333.2" y="1398.0" textLength="103.9" lengthAdjust="spacingAndGlyphs" stroke-width="0.4">XP_731766446.3 Latimeria Xenopus Latimeria Salmo </text>
<text x="306.4" y="1402.5" textLength="89.2" lengthAdjust="spacingAndGlyphs" stroke-width="0.4">XP_425556790.1 Takifugu Danio Salmo Takifu</text>
<text x="306.4" y="1407.0" textLength="103.4" lengthAdjust="spacingAndGlyphs" stroke-width="0.4">XP_483374278.1 pzcnq Gallus Danio Mus Takifugu X</text>
<text x="306.4" y="1411.5" textLength="90.3" lengthAdjust="spacingAndGlyphs" stroke-width="0.4">XP_149042329.3 Anolis Gallus Mus Oryzias X</text>
<text x="306.4" y="1415.9" textLength="104.7" lengthAdjust="spacingAndGlyphs" stroke-width="0.4">XP_971116231.1 bkcuc Mus Oryzias Rattus Latimeria</text>
<text x="306.4" y="1420.4" textLength="92.1" lengthAdjust="spacingAndGlyphs" stroke-width="0.4">XP_397133209.1 Xenopus Anolis Anolis Rattus</text>
<text x="360.1" y="1424.9" textLength="110.6" lengthAdjust="spacingAndGlyphs" stroke-width="0.4">XP_446865709.1 Rattus Danio Xenopus Xenopus Anolis O</text>
<text x="360.1" y="1429.4" textLength="100.0" lengthAdjust="spacingAndGlyphs" stroke-width="0.4">XP_424534199.1 Latimeria vjfmlh Homo Xenopus An</text>
<text x="360.1" y="1433.9" textLength="93.5" lengthAdjust="spacingAndGlyphs" stroke-width="0.4">XP_076055319.1 Danio Anolis Danio Mus Latime</text>
<text x="360.1" y="1438.3" textLength="97.0" lengthAdjust="spacingAndGlyphs" stroke-width="0.4">XP_652295011.3 Mus Homo Oryzias Mus Latimeria</text>
<text x="306.4" y="1442.8" textLength="95.0" lengthAdjust="spacingAndGlyphs" stroke-width="0.4">XP_946483224.2 Danio Latimeria Takifugu Bos </text>
<text x="360.1" y="1447.3" textLength="90.0" lengthAdjust="spacingAndGlyphs" stroke-width="0.4">XP_772680560.2 culfphjo Rattus Takifugu Xe</text>
<text x="360.1" y="1451.8" textLength="90.0" lengthAdjust="spacingAndGlyphs" stroke-width="0.4">XP_768871051.3 Gallus Gallus Anolis Salmo </text>
<text x="360.1" y="1456.3" textLength="100.0" lengthAdjust="spacingAndGlyphs" stroke-width="0.4">XP_649585853.1 Bos Gallus Anolis Oryzias Oryzia</text>
<text x="521.2" y="1460.7" textLength="98.0" lengthAdjust="spacingAndGlyphs" stroke-width="0.4">XP_157347800.1 Oryzias Anolis Gallus Takifugu </text>
<text x="521.2" y="1465.2" textLength="98.0" lengthAdjust="spacingAndGlyphs" stroke-width="0.4">XP_824861766.2 Mus Mus Xenopus Anolis Xenopus </text>
<text x="494.3" y="1469.7" textLength="84.0" lengthAdjust="spacingAndGlyphs" stroke-width="0.4">XP_253332729.2 Takifugu Oryzias uccm Xe</text>
<text x="467.5" y="1474.2" textLength="82.0" lengthAdjust="spacingAndGlyphs" stroke-width="0.4">XP_032183572.2 Salmo Mus rpigdinss Rat</text>
<text x="440.6" y="1478.7" textLength="84.0" lengthAdjust="spacingAndGlyphs" stroke-width="0.4">XP_285012783.2 Gallus Bos Anolis Danio </text>
<text x="413.8" y="1483.1" textLength="84.0" lengthAdjust="spacingAndGlyphs" stroke-width="0.4">XP_690838022.3 Anolis Latimeria Homo Bo</text>
<text x="386.9" y="1487.6" textLength="84.0" lengthAdjust="spacingAndGlyphs" stroke-width="0.4">XP_791694706.2 Homo Salmo Gallus Homo e</text>
<text x="386.9" y="1492.1" textLength="88.0" lengthAdjust="spacingAndGlyphs" stroke-width="0.4">XP_690858186.2 nfwwd Salmo Salmo Latimeri</text>
<text x="413.8" y="1496.6" textLength="84.0" lengthAdjust="spacingAndGlyphs" stroke-width="0.4">XP_272359837.2 Latimeria Danio Mus Homo</text>
<text x="467.5" y="1501.1" textLength="105.0" lengthAdjust="spacingAndGlyphs" stroke-width="0.4">XP_820485243.2 Salmo Anolis Bos Anolis Takifugu M</text>
<text x="467.5" y="1505.5" textLength="105.0" lengthAdjust="spacingAndGlyphs" stroke-width="0.4">XP_720558023.1 Gallus Homo Anolis Salmo Oryzias O</text>
<text x="467.5" y="1510.0" textLength="105.0" lengthAdjust="spacingAndGlyphs" stroke-width="0.4">XP_485369942.1 Bos Latimeria Xenopus Danio Anolis</text>
<text x="467.5" y="1514.5" textLength="105.0" lengthAdjust="spacingAndGlyphs" stroke-width="0.4">XP_774889712.2 Danio zihb Bos Xenopus Rattus Oryz</text>
<text x="91.6" y="1519.0" textLength="100.0" lengthAdjust="spacingAndGlyphs" fill-opacity="0.6" stroke-opacity="0.6">XP_701447204.3 Rattus Takifugu Rattus Danio Gal</text>
<text x="118.4" y="1523.5" textLength="108.0" lengthAdjust="spacingAndGlyphs" fill-opacity="0.6" stroke-opacity="0.6">XP_257922137.1 Rattus Bos Takifugu tijjvnku Oryzia</text>
<text x="118.4" y="1527.9" textLength="108.0" lengthAdjust="spacingAndGlyphs" fill-opacity="0.6" stroke-opacity="0.6">XP_511749965.2 Xenopus Gallus Xenopus Salmo Anolis</text>
<text x="64.7" y="1532.4" textLength="60.0" lengthAdjust="spacingAndGlyphs" fill-opacity="0.6" stroke-opacity="0.6">XP_512119097.1 Gallus Homo L</text>
<text x="64.7" y="1536.9" textLength="58.0" lengthAdjust="spacingAndGlyphs" fill-opacity="0.6" stroke-opacity="0.6">XP_367369205.3 Xenopus Taki</text>
<text x="91.6" y="1541.4" textLength="100.0" lengthAdjust="spacingAndGlyphs" fill-opacity="0.6" stroke-opacity="0.6">XP_823889907.3 Bos Xenopus Oryzias Homo Latimer</text>
<text x="118.4" y="1545.8" textLength="65.0" lengthAdjust="spacingAndGlyphs" fill-opacity="0.6" stroke-opacity="0.6">XP_557668525.1 Mus Oryzias Xen</text>
<text x="145.2" y="1550.3" textLength="105.0" lengthAdjust="spacingAndGlyphs" fill-opacity="0.6" stroke-opacity="0.6">XP_362008301.2 uxetsuc Mus Homo Xenopus Takifugu </text>
<text x="145.2" y="1554.8" textLength="50.0" lengthAdjust="spacingAndGlyphs" fill-opacity="0.6" stroke-opacity="0.6">XP_001828364.3 Mus Bos </text>
</g>
<text font-family="Liberation Sans, sans-serif" font-weight="bold" font-size="25" fill="#FFFFFF" transform="translate(68.4,327.0) rotate(-90)" textLength="99.8" lengthAdjust="spacingAndGlyphs">Bilateria</text>
<text font-family="Liberation Sans, sans-serif" font-weight="bold" font-size="27.3" fill="#FFFFFF" transform="translate(139.9,306.0) rotate(-90)" textLength="78.0" lengthAdjust="spacingAndGlyphs">Type 2</text>
<text font-family="Liberation Sans, sans-serif" font-weight="bold" font-size="26.7" fill="#000000" transform="translate(97.6,687.2) rotate(-90)" textLength="130.2" lengthAdjust="spacingAndGlyphs">Vertebrata</text>
<text font-family="Liberation Sans, sans-serif" font-weight="bold" font-size="26.5" fill="#FFFFFF" transform="translate(138.5,1121.2) rotate(-90)" textLength="77.9" lengthAdjust="spacingAndGlyphs">Type 1</text>
<text font-family="Liberation Sans, sans-serif" font-weight="bold" font-size="26.7" fill="#000000" transform="translate(105.2,1467.8) rotate(-90)" textLength="140.7" lengthAdjust="spacingAndGlyphs">Arthropoda</text>
<text font-family="Liberation Sans, sans-serif" font-weight="bold" font-size="18.9" fill="#000" x="520.6" y="811.0" textLength="159.4" lengthAdjust="spacingAndGlyphs">Lepisosteiformes</text>
<text font-family="Liberation Sans, sans-serif" font-weight="bold" font-size="18.9" fill="#000" x="520.4" y="1197.5" textLength="84.6" lengthAdjust="spacingAndGlyphs">Annelida</text>
<text font-family="Liberation Sans, sans-serif" font-weight="bold" font-size="18.3" fill="#FFFFFF" x="346.0" y="1210.7" textLength="103.7" lengthAdjust="spacingAndGlyphs">Chelicerata</text>
<text font-family="Liberation Sans, sans-serif" font-weight="bold" font-size="18.5" fill="#000" x="521.9" y="1527.0" textLength="83.8" lengthAdjust="spacingAndGlyphs">Mollusca</text>
<text font-family="Liberation Sans, sans-serif" font-weight="bold" font-size="18.9" fill="#000" x="517.4" y="1548.4" textLength="166.7" lengthAdjust="spacingAndGlyphs">Placozoa-Cnidaria</text>
<line x1="245.6" y1="1559.7" x2="306.3" y2="1559.7" stroke="black" stroke-width="2"/>
<text font-family="Liberation Sans, sans-serif" font-weight="bold" font-size="9.2" x="267.6" y="1569.4" fill="#111" textLength="13" lengthAdjust="spacingAndGlyphs">2.0</text>
<text font-family="Liberation Sans, sans-serif" font-size="6" x="254.5" y="1568" fill="#999">- &gt;</text>
</g>
</svg>
</body></html>
